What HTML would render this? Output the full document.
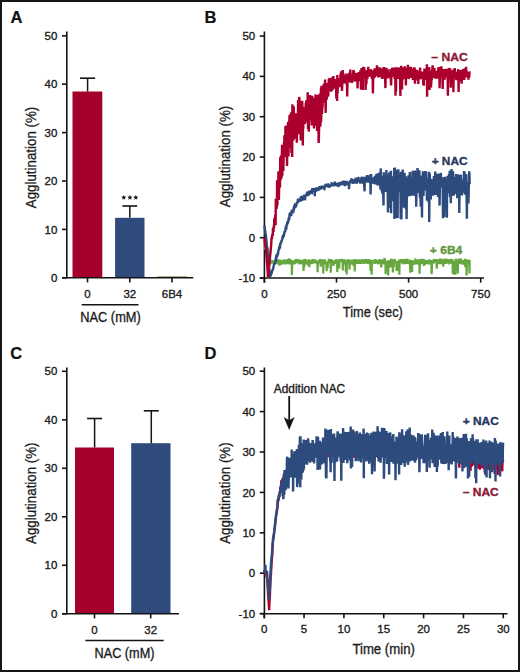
<!DOCTYPE html>
<html><head><meta charset="utf-8"><style>
html,body{margin:0;padding:0;background:#fff;}
#fig{position:relative;width:520px;height:672px;box-sizing:border-box;border:2px solid #161616;overflow:hidden;background:#fff;}
svg{position:absolute;left:-2px;top:-2px;}
text{font-family:"Liberation Sans", sans-serif;}
</style></head><body>
<div id="fig"><svg width="520" height="672" viewBox="0 0 520 672">
<text x="10.40" y="22.90" font-size="16.5" text-anchor="start" font-weight="bold" fill="#111" stroke="#111" stroke-width="0.2">A</text>
<line x1="66.80" y1="31.50" x2="66.80" y2="278.60" stroke="#141414" stroke-width="1.6"/>
<line x1="62.00" y1="277.80" x2="66.80" y2="277.80" stroke="#141414" stroke-width="1.6"/>
<text x="57.40" y="281.90" font-size="11.5" text-anchor="end" font-weight="normal" fill="#1c1c1c" stroke="#1c1c1c" stroke-width="0.35">0</text>
<line x1="62.00" y1="229.40" x2="66.80" y2="229.40" stroke="#141414" stroke-width="1.6"/>
<text x="57.40" y="233.50" font-size="11.5" text-anchor="end" font-weight="normal" fill="#1c1c1c" stroke="#1c1c1c" stroke-width="0.35">10</text>
<line x1="62.00" y1="181.00" x2="66.80" y2="181.00" stroke="#141414" stroke-width="1.6"/>
<text x="57.40" y="185.10" font-size="11.5" text-anchor="end" font-weight="normal" fill="#1c1c1c" stroke="#1c1c1c" stroke-width="0.35">20</text>
<line x1="62.00" y1="132.60" x2="66.80" y2="132.60" stroke="#141414" stroke-width="1.6"/>
<text x="57.40" y="136.70" font-size="11.5" text-anchor="end" font-weight="normal" fill="#1c1c1c" stroke="#1c1c1c" stroke-width="0.35">30</text>
<line x1="62.00" y1="84.20" x2="66.80" y2="84.20" stroke="#141414" stroke-width="1.6"/>
<text x="57.40" y="88.30" font-size="11.5" text-anchor="end" font-weight="normal" fill="#1c1c1c" stroke="#1c1c1c" stroke-width="0.35">40</text>
<line x1="62.00" y1="35.80" x2="66.80" y2="35.80" stroke="#141414" stroke-width="1.6"/>
<text x="57.40" y="39.90" font-size="11.5" text-anchor="end" font-weight="normal" fill="#1c1c1c" stroke="#1c1c1c" stroke-width="0.35">50</text>
<rect x="72.50" y="91.50" width="29.80" height="186.30" fill="#a3002b"/>
<rect x="115.10" y="217.80" width="29.40" height="60.00" fill="#2e4b7b"/>
<rect x="157.20" y="276.00" width="30.10" height="1.80" fill="#a8bd86"/>
<line x1="87.60" y1="91.50" x2="87.60" y2="78.20" stroke="#141414" stroke-width="1.5"/>
<line x1="80.00" y1="78.20" x2="95.20" y2="78.20" stroke="#141414" stroke-width="1.6"/>
<line x1="129.80" y1="217.80" x2="129.80" y2="206.00" stroke="#141414" stroke-width="1.5"/>
<line x1="122.40" y1="206.00" x2="137.20" y2="206.00" stroke="#141414" stroke-width="1.6"/>
<line x1="62.00" y1="277.80" x2="193.30" y2="277.80" stroke="#141414" stroke-width="1.6"/>
<line x1="87.50" y1="277.80" x2="87.50" y2="282.40" stroke="#141414" stroke-width="1.6"/>
<text x="87.50" y="297.60" font-size="11.5" text-anchor="middle" font-weight="normal" fill="#1c1c1c" stroke="#1c1c1c" stroke-width="0.35">0</text>
<line x1="129.80" y1="277.80" x2="129.80" y2="282.40" stroke="#141414" stroke-width="1.6"/>
<text x="129.80" y="297.60" font-size="11.5" text-anchor="middle" font-weight="normal" fill="#1c1c1c" stroke="#1c1c1c" stroke-width="0.35">32</text>
<line x1="172.00" y1="277.80" x2="172.00" y2="282.40" stroke="#141414" stroke-width="1.6"/>
<text x="172.00" y="297.60" font-size="11.5" text-anchor="middle" font-weight="normal" fill="#1c1c1c" stroke="#1c1c1c" stroke-width="0.35">6B4</text>
<line x1="81.70" y1="304.80" x2="138.50" y2="304.80" stroke="#141414" stroke-width="1.5"/>
<text x="110.50" y="321.80" font-size="14" text-anchor="middle" font-weight="normal" fill="#1c1c1c" stroke="#1c1c1c" stroke-width="0.35" textLength="60.5" lengthAdjust="spacingAndGlyphs">NAC (mM)</text>
<polygon points="123.80,195.00 124.53,196.59 126.27,196.80 124.99,197.99 125.33,199.70 123.80,198.85 122.27,199.70 122.61,197.99 121.33,196.80 123.07,196.59" fill="#1a1a1a"/>
<polygon points="129.90,195.00 130.63,196.59 132.37,196.80 131.09,197.99 131.43,199.70 129.90,198.85 128.37,199.70 128.71,197.99 127.43,196.80 129.17,196.59" fill="#1a1a1a"/>
<polygon points="135.80,195.00 136.53,196.59 138.27,196.80 136.99,197.99 137.33,199.70 135.80,198.85 134.27,199.70 134.61,197.99 133.33,196.80 135.07,196.59" fill="#1a1a1a"/>
<text transform="translate(36.00,157.50) rotate(-90)" x="0" y="0" font-size="15" text-anchor="middle" fill="#1c1c1c" stroke="#1c1c1c" stroke-width="0.3" textLength="101.5" lengthAdjust="spacingAndGlyphs">Agglutination (%)</text>
<text x="10.20" y="358.80" font-size="16.5" text-anchor="start" font-weight="bold" fill="#111" stroke="#111" stroke-width="0.2">C</text>
<line x1="66.80" y1="367.50" x2="66.80" y2="614.60" stroke="#141414" stroke-width="1.6"/>
<line x1="62.00" y1="613.80" x2="66.80" y2="613.80" stroke="#141414" stroke-width="1.6"/>
<text x="57.40" y="617.90" font-size="11.5" text-anchor="end" font-weight="normal" fill="#1c1c1c" stroke="#1c1c1c" stroke-width="0.35">0</text>
<line x1="62.00" y1="565.30" x2="66.80" y2="565.30" stroke="#141414" stroke-width="1.6"/>
<text x="57.40" y="569.40" font-size="11.5" text-anchor="end" font-weight="normal" fill="#1c1c1c" stroke="#1c1c1c" stroke-width="0.35">10</text>
<line x1="62.00" y1="516.80" x2="66.80" y2="516.80" stroke="#141414" stroke-width="1.6"/>
<text x="57.40" y="520.90" font-size="11.5" text-anchor="end" font-weight="normal" fill="#1c1c1c" stroke="#1c1c1c" stroke-width="0.35">20</text>
<line x1="62.00" y1="468.30" x2="66.80" y2="468.30" stroke="#141414" stroke-width="1.6"/>
<text x="57.40" y="472.40" font-size="11.5" text-anchor="end" font-weight="normal" fill="#1c1c1c" stroke="#1c1c1c" stroke-width="0.35">30</text>
<line x1="62.00" y1="419.80" x2="66.80" y2="419.80" stroke="#141414" stroke-width="1.6"/>
<text x="57.40" y="423.90" font-size="11.5" text-anchor="end" font-weight="normal" fill="#1c1c1c" stroke="#1c1c1c" stroke-width="0.35">40</text>
<line x1="62.00" y1="371.30" x2="66.80" y2="371.30" stroke="#141414" stroke-width="1.6"/>
<text x="57.40" y="375.40" font-size="11.5" text-anchor="end" font-weight="normal" fill="#1c1c1c" stroke="#1c1c1c" stroke-width="0.35">50</text>
<rect x="75.00" y="447.50" width="39.00" height="166.30" fill="#a3002b"/>
<rect x="131.20" y="443.20" width="39.30" height="170.60" fill="#2e4b7b"/>
<line x1="94.60" y1="447.50" x2="94.60" y2="418.50" stroke="#141414" stroke-width="1.5"/>
<line x1="87.10" y1="418.50" x2="102.10" y2="418.50" stroke="#141414" stroke-width="1.6"/>
<line x1="151.30" y1="443.20" x2="151.30" y2="410.80" stroke="#141414" stroke-width="1.5"/>
<line x1="143.80" y1="410.80" x2="158.80" y2="410.80" stroke="#141414" stroke-width="1.6"/>
<line x1="62.00" y1="613.80" x2="179.00" y2="613.80" stroke="#141414" stroke-width="1.6"/>
<line x1="94.50" y1="613.80" x2="94.50" y2="618.40" stroke="#141414" stroke-width="1.6"/>
<text x="94.50" y="633.60" font-size="11.5" text-anchor="middle" font-weight="normal" fill="#1c1c1c" stroke="#1c1c1c" stroke-width="0.35">0</text>
<line x1="150.70" y1="613.80" x2="150.70" y2="618.40" stroke="#141414" stroke-width="1.6"/>
<text x="150.70" y="633.60" font-size="11.5" text-anchor="middle" font-weight="normal" fill="#1c1c1c" stroke="#1c1c1c" stroke-width="0.35">32</text>
<line x1="85.40" y1="640.60" x2="163.70" y2="640.60" stroke="#141414" stroke-width="1.5"/>
<text x="124.50" y="657.90" font-size="14" text-anchor="middle" font-weight="normal" fill="#1c1c1c" stroke="#1c1c1c" stroke-width="0.35" textLength="60.0" lengthAdjust="spacingAndGlyphs">NAC (mM)</text>
<text transform="translate(36.00,493.20) rotate(-90)" x="0" y="0" font-size="15" text-anchor="middle" fill="#1c1c1c" stroke="#1c1c1c" stroke-width="0.3" textLength="101.5" lengthAdjust="spacingAndGlyphs">Agglutination (%)</text>
<text x="204.50" y="23.00" font-size="16.5" text-anchor="start" font-weight="bold" fill="#111" stroke="#111" stroke-width="0.2">B</text>
<line x1="264.40" y1="31.50" x2="264.40" y2="282.60" stroke="#141414" stroke-width="1.6"/>
<line x1="259.80" y1="278.03" x2="264.40" y2="278.03" stroke="#141414" stroke-width="1.6"/>
<text x="255.20" y="282.13" font-size="11.5" text-anchor="end" font-weight="normal" fill="#1c1c1c" stroke="#1c1c1c" stroke-width="0.35">-10</text>
<line x1="259.80" y1="237.70" x2="264.40" y2="237.70" stroke="#141414" stroke-width="1.6"/>
<text x="255.20" y="241.80" font-size="11.5" text-anchor="end" font-weight="normal" fill="#1c1c1c" stroke="#1c1c1c" stroke-width="0.35">0</text>
<line x1="259.80" y1="197.37" x2="264.40" y2="197.37" stroke="#141414" stroke-width="1.6"/>
<text x="255.20" y="201.47" font-size="11.5" text-anchor="end" font-weight="normal" fill="#1c1c1c" stroke="#1c1c1c" stroke-width="0.35">10</text>
<line x1="259.80" y1="157.04" x2="264.40" y2="157.04" stroke="#141414" stroke-width="1.6"/>
<text x="255.20" y="161.14" font-size="11.5" text-anchor="end" font-weight="normal" fill="#1c1c1c" stroke="#1c1c1c" stroke-width="0.35">20</text>
<line x1="259.80" y1="116.71" x2="264.40" y2="116.71" stroke="#141414" stroke-width="1.6"/>
<text x="255.20" y="120.81" font-size="11.5" text-anchor="end" font-weight="normal" fill="#1c1c1c" stroke="#1c1c1c" stroke-width="0.35">30</text>
<line x1="259.80" y1="76.38" x2="264.40" y2="76.38" stroke="#141414" stroke-width="1.6"/>
<text x="255.20" y="80.48" font-size="11.5" text-anchor="end" font-weight="normal" fill="#1c1c1c" stroke="#1c1c1c" stroke-width="0.35">40</text>
<line x1="259.80" y1="36.05" x2="264.40" y2="36.05" stroke="#141414" stroke-width="1.6"/>
<text x="255.20" y="40.15" font-size="11.5" text-anchor="end" font-weight="normal" fill="#1c1c1c" stroke="#1c1c1c" stroke-width="0.35">50</text>
<line x1="259.80" y1="278.00" x2="484.00" y2="278.00" stroke="#141414" stroke-width="1.6"/>
<line x1="264.40" y1="278.00" x2="264.40" y2="282.60" stroke="#141414" stroke-width="1.6"/>
<text x="264.40" y="297.60" font-size="11.5" text-anchor="middle" font-weight="normal" fill="#1c1c1c" stroke="#1c1c1c" stroke-width="0.35">0</text>
<line x1="336.50" y1="278.00" x2="336.50" y2="282.60" stroke="#141414" stroke-width="1.6"/>
<text x="336.50" y="297.60" font-size="11.5" text-anchor="middle" font-weight="normal" fill="#1c1c1c" stroke="#1c1c1c" stroke-width="0.35">250</text>
<line x1="408.60" y1="278.00" x2="408.60" y2="282.60" stroke="#141414" stroke-width="1.6"/>
<text x="408.60" y="297.60" font-size="11.5" text-anchor="middle" font-weight="normal" fill="#1c1c1c" stroke="#1c1c1c" stroke-width="0.35">500</text>
<line x1="480.70" y1="278.00" x2="480.70" y2="282.60" stroke="#141414" stroke-width="1.6"/>
<text x="480.70" y="297.60" font-size="11.5" text-anchor="middle" font-weight="normal" fill="#1c1c1c" stroke="#1c1c1c" stroke-width="0.35">750</text>
<text x="342.80" y="317.40" font-size="15" text-anchor="start" font-weight="normal" fill="#1c1c1c" stroke="#1c1c1c" stroke-width="0.35" textLength="60" lengthAdjust="spacingAndGlyphs">Time (sec)</text>
<text transform="translate(229.80,156.50) rotate(-90)" x="0" y="0" font-size="15" text-anchor="middle" fill="#1c1c1c" stroke="#1c1c1c" stroke-width="0.3" textLength="101.5" lengthAdjust="spacingAndGlyphs">Agglutination (%)</text>
<polyline points="264.4,246.6 264.7,247.5 264.9,247.2 265.2,249.9 265.4,247.9 265.7,246.6 266.0,249.0 266.2,250.4 266.5,247.1 266.7,248.4 267.0,250.5 267.3,248.8 267.5,247.6 267.8,250.9 268.0,249.2 268.3,251.2 268.6,254.6 268.8,256.1 269.1,253.9 269.3,258.2 269.6,259.0 269.9,259.3 270.1,261.7 270.4,264.3 270.6,263.0 270.9,261.8 271.1,260.3 271.4,261.1 271.7,262.1 271.9,263.3 272.2,260.2 272.4,263.3 272.7,260.5 273.0,261.7 273.2,261.4 273.5,262.3 273.7,263.3 274.0,263.4 274.3,260.9 274.5,262.9 274.8,264.2 275.0,263.3 275.3,259.5 275.6,260.6 275.8,261.3 276.1,262.2 276.3,260.0 276.6,262.9 276.9,261.0 277.1,264.3 277.4,260.9 277.6,259.2 277.9,260.6 278.2,263.9 278.4,261.2 278.7,262.7 278.9,259.5 279.2,264.2 279.5,265.5 279.7,263.8 280.0,262.5 280.2,259.7 280.5,261.3 280.8,260.8 281.0,264.1 281.3,263.4 281.5,262.3 281.8,264.7 282.1,260.4 282.3,261.3 282.6,262.8 282.8,263.4 283.1,262.1 283.3,263.0 283.6,260.3 283.9,259.6 284.1,260.1 284.4,263.7 284.6,260.2 284.9,264.2 285.2,263.6 285.4,260.6 285.7,262.6 285.9,260.0 286.2,260.7 286.5,260.9 286.7,261.1 287.0,259.5 287.2,259.9 287.5,264.2 287.8,259.1 288.0,262.0 288.3,262.8 288.5,259.7 288.8,259.5 289.1,260.2 289.3,260.5 289.6,264.3 289.8,262.9 290.1,260.0 290.4,259.0 290.6,262.8 290.9,260.3 291.1,263.7 291.4,260.4 291.7,262.4 291.9,275.1 292.2,263.4 292.4,261.3 292.7,261.8 293.0,260.7 293.2,262.5 293.5,261.2 293.7,262.3 294.0,260.3 294.2,264.3 294.5,261.2 294.8,261.2 295.0,264.0 295.3,260.3 295.5,261.0 295.8,259.3 296.1,263.3 296.3,262.1 296.6,259.7 296.8,259.3 297.1,260.7 297.4,262.4 297.6,260.4 297.9,261.9 298.1,261.5 298.4,260.7 298.7,259.4 298.9,264.3 299.2,260.6 299.4,259.5 299.7,262.3 300.0,263.1 300.2,261.3 300.5,264.2 300.7,260.0 301.0,261.7 301.3,260.8 301.5,260.2 301.8,264.2 302.0,263.3 302.3,262.1 302.6,261.1 302.8,262.4 303.1,262.8 303.3,264.2 303.6,271.0 303.9,259.3 304.1,264.2 304.4,266.6 304.6,263.2 304.9,259.2 305.2,260.0 305.4,263.2 305.7,259.2 305.9,262.7 306.2,260.6 306.4,262.9 306.7,262.8 307.0,264.0 307.2,262.8 307.5,262.1 307.7,264.2 308.0,264.3 308.3,264.3 308.5,259.6 308.8,262.1 309.0,259.4 309.3,267.3 309.6,261.3 309.8,262.3 310.1,260.2 310.3,262.5 310.6,260.0 310.9,262.2 311.1,263.6 311.4,262.1 311.6,264.2 311.9,262.3 312.2,262.3 312.4,260.5 312.7,259.0 312.9,263.5 313.2,261.1 313.5,259.9 313.7,260.7 314.0,263.1 314.2,262.1 314.5,259.3 314.8,261.5 315.0,260.7 315.3,262.7 315.5,260.1 315.8,261.3 316.1,260.1 316.3,262.8 316.6,263.1 316.8,263.4 317.1,261.1 317.4,263.9 317.6,272.2 317.9,260.8 318.1,262.8 318.4,262.9 318.6,263.1 318.9,261.8 319.2,260.3 319.4,262.9 319.7,261.5 319.9,259.0 320.2,261.6 320.5,262.9 320.7,266.6 321.0,259.5 321.2,260.3 321.5,262.6 321.8,261.6 322.0,262.6 322.3,259.4 322.5,264.5 322.8,259.6 323.1,262.9 323.3,273.6 323.6,259.8 323.8,260.1 324.1,264.1 324.4,262.7 324.6,263.8 324.9,260.3 325.1,259.5 325.4,262.8 325.7,262.4 325.9,264.1 326.2,263.8 326.4,264.0 326.7,271.1 327.0,263.2 327.2,261.8 327.5,262.9 327.7,268.3 328.0,261.3 328.3,262.5 328.5,262.9 328.8,259.5 329.0,259.3 329.3,261.8 329.5,262.2 329.8,261.5 330.1,261.4 330.3,259.2 330.6,262.0 330.8,272.7 331.1,259.2 331.4,260.8 331.6,263.6 331.9,261.4 332.1,259.9 332.4,261.3 332.7,262.9 332.9,262.4 333.2,260.4 333.4,265.9 333.7,264.2 334.0,262.6 334.2,260.3 334.5,264.0 334.7,262.2 335.0,261.3 335.3,262.7 335.5,260.6 335.8,264.0 336.0,259.3 336.3,260.3 336.6,259.6 336.8,261.5 337.1,261.8 337.3,272.1 337.6,263.8 337.9,261.5 338.1,262.7 338.4,259.7 338.6,263.4 338.9,264.1 339.2,268.5 339.4,259.0 339.7,262.0 339.9,259.6 340.2,260.4 340.5,260.1 340.7,261.1 341.0,261.6 341.2,260.9 341.5,260.0 341.7,259.2 342.0,259.5 342.3,260.4 342.5,259.3 342.8,270.4 343.0,264.3 343.3,262.9 343.6,264.3 343.8,261.3 344.1,263.3 344.3,259.6 344.6,263.8 344.9,260.2 345.1,264.0 345.4,259.3 345.6,262.4 345.9,271.9 346.2,262.6 346.4,260.5 346.7,274.5 346.9,260.7 347.2,263.6 347.5,262.3 347.7,261.7 348.0,262.8 348.2,259.3 348.5,260.5 348.8,260.5 349.0,263.0 349.3,261.5 349.5,269.7 349.8,262.6 350.1,260.1 350.3,265.3 350.6,260.6 350.8,263.0 351.1,260.0 351.4,263.5 351.6,259.5 351.9,264.0 352.1,263.2 352.4,260.8 352.7,262.4 352.9,263.4 353.2,263.5 353.4,265.6 353.7,262.7 353.9,259.4 354.2,260.3 354.5,261.7 354.7,271.4 355.0,263.1 355.2,262.0 355.5,259.9 355.8,259.4 356.0,263.5 356.3,262.6 356.5,260.1 356.8,262.8 357.1,262.5 357.3,263.8 357.6,259.8 357.8,263.7 358.1,260.7 358.4,263.8 358.6,262.9 358.9,259.3 359.1,263.7 359.4,260.1 359.7,263.1 359.9,259.9 360.2,262.5 360.4,261.4 360.7,259.9 361.0,263.8 361.2,262.3 361.5,259.4 361.7,262.9 362.0,261.2 362.3,259.4 362.5,260.5 362.8,259.3 363.0,261.3 363.3,260.7 363.6,264.0 363.8,259.2 364.1,262.0 364.3,261.4 364.6,261.4 364.8,262.6 365.1,259.1 365.4,260.7 365.6,261.4 365.9,263.5 366.1,260.3 366.4,260.8 366.7,259.2 366.9,261.2 367.2,262.5 367.4,260.9 367.7,263.5 368.0,263.1 368.2,261.2 368.5,260.8 368.7,259.1 369.0,264.1 369.3,259.5 369.5,262.1 369.8,264.1 370.0,262.2 370.3,261.1 370.6,270.9 370.8,262.4 371.1,259.9 371.3,262.0 371.6,274.8 371.9,262.9 372.1,263.8 372.4,261.7 372.6,260.3 372.9,262.4 373.2,263.0 373.4,261.3 373.7,259.8 373.9,261.2 374.2,261.0 374.5,262.2 374.7,260.8 375.0,260.2 375.2,263.9 375.5,259.0 375.8,262.0 376.0,261.8 376.3,261.6 376.5,260.3 376.8,261.7 377.0,261.0 377.3,262.7 377.6,262.9 377.8,261.5 378.1,263.7 378.3,264.1 378.6,260.4 378.9,263.5 379.1,260.9 379.4,259.3 379.6,259.8 379.9,263.7 380.2,261.8 380.4,261.3 380.7,262.4 380.9,262.3 381.2,267.5 381.5,263.5 381.7,259.7 382.0,260.0 382.2,263.3 382.5,262.3 382.8,261.4 383.0,259.4 383.3,264.3 383.5,259.4 383.8,264.0 384.1,262.7 384.3,264.3 384.6,259.0 384.8,259.1 385.1,261.9 385.4,260.4 385.6,274.1 385.9,270.2 386.1,262.4 386.4,261.3 386.7,262.6 386.9,260.7 387.2,261.7 387.4,261.6 387.7,261.6 388.0,262.4 388.2,275.5 388.5,260.4 388.7,260.9 389.0,263.6 389.2,260.7 389.5,263.2 389.8,260.8 390.0,260.3 390.3,260.8 390.5,267.5 390.8,262.1 391.1,258.9 391.3,259.5 391.6,266.1 391.8,262.7 392.1,259.2 392.4,261.2 392.6,263.5 392.9,272.4 393.1,263.7 393.4,261.6 393.7,267.3 393.9,263.5 394.2,260.1 394.4,262.6 394.7,259.1 395.0,260.5 395.2,262.2 395.5,262.7 395.7,263.5 396.0,262.4 396.3,261.3 396.5,270.8 396.8,261.2 397.0,271.0 397.3,263.4 397.6,263.5 397.8,262.7 398.1,261.0 398.3,262.9 398.6,260.6 398.9,261.6 399.1,262.4 399.4,274.8 399.6,259.2 399.9,263.2 400.1,261.7 400.4,261.2 400.7,262.4 400.9,262.3 401.2,259.0 401.4,261.1 401.7,259.2 402.0,262.4 402.2,260.8 402.5,261.3 402.7,259.9 403.0,263.1 403.3,264.1 403.5,259.9 403.8,259.4 404.0,264.1 404.3,259.5 404.6,261.7 404.8,263.9 405.1,262.9 405.3,263.4 405.6,261.4 405.9,258.8 406.1,262.1 406.4,260.5 406.6,262.7 406.9,263.6 407.2,258.9 407.4,259.4 407.7,263.8 407.9,262.9 408.2,261.3 408.5,260.2 408.7,262.6 409.0,264.0 409.2,262.8 409.5,261.2 409.8,259.6 410.0,264.2 410.3,272.7 410.5,261.0 410.8,262.5 411.1,261.7 411.3,264.1 411.6,261.6 411.8,260.1 412.1,272.0 412.3,261.2 412.6,260.6 412.9,263.7 413.1,262.0 413.4,262.7 413.6,263.0 413.9,261.0 414.2,264.1 414.4,264.4 414.7,260.3 414.9,263.1 415.2,264.1 415.5,259.5 415.7,259.6 416.0,262.4 416.2,259.6 416.5,263.1 416.8,263.2 417.0,260.4 417.3,263.6 417.5,262.3 417.8,260.7 418.1,262.9 418.3,264.3 418.6,259.3 418.8,262.5 419.1,262.8 419.4,261.4 419.6,273.8 419.9,262.0 420.1,261.4 420.4,260.0 420.7,259.0 420.9,260.9 421.2,259.8 421.4,263.0 421.7,263.0 422.0,263.7 422.2,262.8 422.5,263.0 422.7,259.8 423.0,259.0 423.3,263.7 423.5,260.7 423.8,258.8 424.0,265.9 424.3,263.1 424.5,261.0 424.8,260.5 425.1,264.2 425.3,263.9 425.6,260.3 425.8,261.5 426.1,260.5 426.4,263.7 426.6,263.2 426.9,260.0 427.1,262.2 427.4,261.6 427.7,260.0 427.9,263.9 428.2,263.7 428.4,261.5 428.7,260.7 429.0,264.4 429.2,261.4 429.5,260.1 429.7,259.5 430.0,262.9 430.3,260.2 430.5,263.1 430.8,261.7 431.0,260.2 431.3,262.5 431.6,274.2 431.8,270.8 432.1,260.9 432.3,261.6 432.6,262.0 432.9,263.6 433.1,262.2 433.4,259.9 433.6,263.4 433.9,260.0 434.2,259.7 434.4,259.2 434.7,261.4 434.9,261.5 435.2,261.6 435.5,261.2 435.7,259.5 436.0,261.2 436.2,261.2 436.5,260.0 436.7,268.8 437.0,264.2 437.3,259.1 437.5,262.2 437.8,261.6 438.0,261.7 438.3,260.4 438.6,263.1 438.8,262.9 439.1,263.0 439.3,260.3 439.6,261.9 439.9,258.8 440.1,259.4 440.4,258.9 440.6,263.2 440.9,263.2 441.2,260.1 441.4,260.7 441.7,262.6 441.9,262.1 442.2,264.2 442.5,258.9 442.7,263.7 443.0,259.8 443.2,266.6 443.5,260.3 443.8,263.9 444.0,261.4 444.3,261.7 444.5,260.4 444.8,263.5 445.1,259.1 445.3,258.8 445.6,263.1 445.8,263.8 446.1,261.3 446.4,261.9 446.6,260.7 446.9,258.8 447.1,260.3 447.4,260.3 447.6,259.3 447.9,260.9 448.2,262.5 448.4,263.5 448.7,262.8 448.9,261.0 449.2,263.0 449.5,262.8 449.7,260.4 450.0,259.8 450.2,262.7 450.5,259.1 450.8,260.0 451.0,262.3 451.3,261.7 451.5,263.6 451.8,259.9 452.1,259.2 452.3,259.9 452.6,263.8 452.8,273.7 453.1,271.6 453.4,274.4 453.6,262.7 453.9,262.4 454.1,262.6 454.4,264.3 454.7,261.2 454.9,261.6 455.2,260.6 455.4,274.8 455.7,258.8 456.0,260.3 456.2,260.1 456.5,262.7 456.7,268.5 457.0,260.0 457.3,260.3 457.5,264.0 457.8,273.5 458.0,264.2 458.3,263.4 458.6,260.4 458.8,262.2 459.1,259.7 459.3,259.7 459.6,264.0 459.8,263.0 460.1,260.4 460.4,261.8 460.6,259.4 460.9,259.4 461.1,259.8 461.4,260.5 461.7,262.9 461.9,262.2 462.2,264.3 462.4,260.4 462.7,263.9 463.0,262.3 463.2,264.3 463.5,264.0 463.7,260.0 464.0,262.7 464.3,260.9 464.5,262.2 464.8,261.4 465.0,258.9 465.3,267.1 465.6,262.2 465.8,259.3 466.1,262.0 466.3,259.9 466.6,275.4 466.9,263.1 467.1,263.0 467.4,260.0 467.6,260.4 467.9,262.3 468.2,263.0 468.4,263.2 468.7,260.0 468.9,260.3 469.2,262.5 469.5,273.5 469.7,260.3" fill="none" stroke="#66a83f" stroke-width="2.2" stroke-linejoin="miter" stroke-miterlimit="2"/>
<polyline points="264.4,225.6 264.7,227.4 264.9,229.2 265.2,231.0 265.4,232.9 265.7,234.7 266.0,236.5 266.2,238.6 266.5,241.5 266.7,244.3 267.0,247.1 267.3,249.9 267.5,252.8 267.8,255.6 268.0,258.4 268.3,261.2 268.6,264.0 268.8,266.6 269.1,268.4 269.3,270.3 269.6,272.2 269.9,274.1 270.1,276.0 270.4,276.0 270.6,275.4 270.9,274.9 271.1,274.4 271.4,273.8 271.7,272.8 271.9,271.9 272.2,270.8 272.4,270.1 272.7,269.8 273.0,269.6 273.2,268.0 273.5,266.7 273.7,265.5 274.0,264.8 274.3,264.2 274.5,263.3 274.8,263.9 275.0,262.5 275.3,261.5 275.6,262.3 275.8,257.5 276.1,260.5 276.3,255.7 276.6,255.7 276.9,257.4 277.1,255.9 277.4,255.6 277.6,253.1 277.9,254.9 278.2,252.3 278.4,250.0 278.7,250.5 278.9,248.9 279.2,249.0 279.5,247.3 279.7,245.4 280.0,248.4 280.2,243.6 280.5,243.1 280.8,243.8 281.0,243.4 281.3,241.3 281.5,240.6 281.8,241.4 282.1,239.2 282.3,239.4 282.6,236.0 282.8,238.6 283.1,237.0 283.3,234.3 283.6,235.2 283.9,235.4 284.1,234.8 284.4,231.9 284.6,231.4 284.9,232.2 285.2,231.4 285.4,229.8 285.7,227.5 285.9,227.6 286.2,229.6 286.5,226.3 286.7,224.1 287.0,225.6 287.2,222.6 287.5,221.5 287.8,223.6 288.0,222.0 288.3,221.6 288.5,219.4 288.8,217.6 289.1,220.0 289.3,218.4 289.6,213.6 289.8,216.5 290.1,212.3 290.4,216.3 290.6,215.3 290.9,215.1 291.1,214.2 291.4,214.3 291.7,209.8 291.9,210.9 292.2,212.1 292.4,212.3 292.7,209.8 293.0,210.2 293.2,213.2 293.5,209.8 293.7,207.3 294.0,210.1 294.2,206.2 294.5,205.4 294.8,205.1 295.0,208.1 295.3,204.6 295.5,204.7 295.8,207.1 296.1,206.3 296.3,204.8 296.6,204.2 296.8,202.8 297.1,202.5 297.4,202.2 297.6,203.4 297.9,199.7 298.1,199.7 298.4,202.1 298.7,199.0 298.9,199.3 299.2,201.2 299.4,198.8 299.7,199.4 300.0,199.5 300.2,200.4 300.5,201.6 300.7,197.5 301.0,197.3 301.3,198.7 301.5,198.2 301.8,197.3 302.0,200.6 302.3,199.4 302.6,199.9 302.8,195.7 303.1,197.8 303.3,197.9 303.6,196.0 303.9,197.1 304.1,196.7 304.4,194.6 304.6,196.0 304.9,200.2 305.2,198.5 305.4,195.3 305.7,196.1 305.9,195.5 306.2,194.6 306.4,195.6 306.7,194.0 307.0,192.6 307.2,192.6 307.5,196.2 307.7,193.1 308.0,194.5 308.3,193.6 308.5,195.6 308.8,191.4 309.0,191.7 309.3,191.2 309.6,194.6 309.8,193.3 310.1,192.6 310.3,192.5 310.6,190.6 310.9,191.4 311.1,190.1 311.4,193.7 311.6,192.5 311.9,192.7 312.2,189.3 312.4,189.3 312.7,190.0 312.9,192.0 313.2,189.5 313.5,190.0 313.7,189.4 314.0,190.6 314.2,189.4 314.5,188.1 314.8,196.3 315.0,188.1 315.3,191.9 315.5,188.8 315.8,191.2 316.1,190.6 316.3,189.4 316.6,187.9 316.8,187.6 317.1,189.8 317.4,187.4 317.6,189.1 317.9,191.2 318.1,187.5 318.4,188.9 318.6,189.7 318.9,190.2 319.2,188.3 319.4,187.6 319.7,186.2 319.9,186.6 320.2,187.3 320.5,187.6 320.7,189.5 321.0,186.9 321.2,188.9 321.5,187.8 321.8,185.7 322.0,186.8 322.3,188.5 322.5,186.4 322.8,187.9 323.1,185.8 323.3,187.7 323.6,186.2 323.8,187.3 324.1,188.7 324.4,188.9 324.6,187.8 324.9,184.7 325.1,186.4 325.4,185.0 325.7,186.4 325.9,184.9 326.2,184.4 326.4,183.9 326.7,185.2 327.0,186.4 327.2,186.2 327.5,186.9 327.7,183.8 328.0,184.2 328.3,184.5 328.5,186.7 328.8,187.7 329.0,185.3 329.3,186.8 329.5,184.7 329.8,187.4 330.1,185.9 330.3,184.4 330.6,185.6 330.8,184.7 331.1,186.0 331.4,185.4 331.6,183.3 331.9,183.4 332.1,183.8 332.4,185.5 332.7,183.9 332.9,184.6 333.2,186.3 333.4,182.8 333.7,185.8 334.0,184.6 334.2,182.7 334.5,183.8 334.7,182.6 335.0,182.6 335.3,184.7 335.5,184.6 335.8,183.9 336.0,183.0 336.3,185.4 336.6,183.9 336.8,186.2 337.1,185.6 337.3,186.0 337.6,185.1 337.9,185.3 338.1,182.5 338.4,184.7 338.6,185.6 338.9,185.4 339.2,186.5 339.4,184.3 339.7,182.3 339.9,184.6 340.2,184.5 340.5,182.2 340.7,184.7 341.0,181.6 341.2,182.9 341.5,185.2 341.7,182.5 342.0,182.8 342.3,183.7 342.5,182.3 342.8,185.0 343.0,182.6 343.3,180.7 343.6,185.3 343.8,181.9 344.1,182.8 344.3,180.9 344.6,184.0 344.9,185.0 345.1,185.0 345.4,182.9 345.6,184.2 345.9,182.2 346.2,182.9 346.4,183.3 346.7,180.8 346.9,184.4 347.2,184.8 347.5,183.5 347.7,183.6 348.0,183.0 348.2,183.0 348.5,184.3 348.8,183.0 349.0,189.2 349.3,184.4 349.5,183.2 349.8,182.8 350.1,180.4 350.3,182.6 350.6,181.9 350.8,182.8 351.1,182.3 351.4,179.0 351.6,178.8 351.9,180.0 352.1,181.9 352.4,182.8 352.7,182.2 352.9,182.6 353.2,182.0 353.4,183.8 353.7,180.1 353.9,180.9 354.2,179.3 354.5,183.2 354.7,181.7 355.0,180.9 355.2,182.6 355.5,179.5 355.8,177.6 356.0,181.6 356.3,181.7 356.5,183.5 356.8,182.9 357.1,178.6 357.3,178.8 357.6,178.5 357.8,180.5 358.1,177.3 358.4,177.6 358.6,182.2 358.9,181.2 359.1,180.7 359.4,180.7 359.7,179.8 359.9,179.7 360.2,183.7 360.4,178.7 360.7,181.5 361.0,179.8 361.2,182.8 361.5,176.8 361.7,183.1 362.0,181.4 362.3,183.3 362.5,180.3 362.8,176.7 363.0,183.7 363.3,177.9 363.6,183.1 363.8,180.5 364.1,183.4 364.3,187.2 364.6,191.3 364.8,176.8 365.1,182.9 365.4,180.5 365.6,181.3 365.9,180.2 366.1,180.0 366.4,182.3 366.7,177.3 366.9,175.0 367.2,181.2 367.4,180.1 367.7,175.6 368.0,176.9 368.2,177.6 368.5,176.9 368.7,182.8 369.0,177.2 369.3,181.7 369.5,177.2 369.8,179.6 370.0,174.5 370.3,176.3 370.6,194.5 370.8,183.6 371.1,174.0 371.3,182.5 371.6,178.2 371.9,183.3 372.1,181.2 372.4,177.2 372.6,183.7 372.9,180.5 373.2,181.9 373.4,179.1 373.7,177.7 373.9,182.4 374.2,182.8 374.5,183.2 374.7,183.2 375.0,175.7 375.2,178.5 375.5,178.5 375.8,183.5 376.0,184.2 376.3,175.3 376.5,173.9 376.8,177.0 377.0,181.2 377.3,180.5 377.6,184.8 377.8,185.4 378.1,173.3 378.3,175.2 378.6,185.2 378.9,181.5 379.1,172.9 379.4,174.5 379.6,181.7 379.9,182.2 380.2,179.0 380.4,189.4 380.7,168.4 380.9,175.1 381.2,182.1 381.5,176.5 381.7,191.4 382.0,176.2 382.2,188.6 382.5,193.9 382.8,175.7 383.0,179.9 383.3,194.0 383.5,205.5 383.8,172.3 384.1,187.7 384.3,181.7 384.6,184.5 384.8,182.4 385.1,189.3 385.4,186.9 385.6,190.3 385.9,176.1 386.1,192.1 386.4,170.1 386.7,189.0 386.9,189.7 387.2,179.9 387.4,181.9 387.7,190.9 388.0,212.4 388.2,177.0 388.5,174.5 388.7,207.9 389.0,179.9 389.2,173.7 389.5,172.7 389.8,174.5 390.0,174.3 390.3,180.1 390.5,184.2 390.8,170.8 391.1,213.3 391.3,179.2 391.6,194.1 391.8,187.9 392.1,192.4 392.4,201.2 392.6,176.8 392.9,192.5 393.1,176.3 393.4,179.1 393.7,182.3 393.9,176.8 394.2,168.1 394.4,219.0 394.7,192.4 395.0,167.5 395.2,184.2 395.5,193.9 395.7,174.1 396.0,190.4 396.3,191.3 396.5,170.0 396.8,217.9 397.0,187.0 397.3,175.7 397.6,218.3 397.8,188.5 398.1,192.2 398.3,169.2 398.6,185.8 398.9,174.1 399.1,187.9 399.4,182.2 399.6,176.0 399.9,182.2 400.1,187.1 400.4,177.8 400.7,218.4 400.9,171.8 401.2,179.5 401.4,219.5 401.7,190.5 402.0,187.9 402.2,175.2 402.5,198.5 402.7,169.5 403.0,180.2 403.3,192.8 403.5,179.8 403.8,177.5 404.0,207.8 404.3,188.4 404.6,172.9 404.8,180.7 405.1,203.9 405.3,188.8 405.6,176.1 405.9,208.9 406.1,194.9 406.4,193.1 406.6,219.1 406.9,185.6 407.2,195.0 407.4,186.3 407.7,196.6 407.9,177.6 408.2,182.7 408.5,175.4 408.7,179.3 409.0,182.2 409.2,186.7 409.5,196.2 409.8,172.1 410.0,194.6 410.3,181.2 410.5,183.8 410.8,188.3 411.1,190.0 411.3,178.2 411.6,194.5 411.8,195.5 412.1,194.5 412.3,180.1 412.6,170.8 412.9,172.9 413.1,188.0 413.4,175.3 413.6,194.9 413.9,176.2 414.2,183.1 414.4,179.6 414.7,196.0 414.9,170.6 415.2,183.4 415.5,185.0 415.7,191.9 416.0,180.9 416.2,206.7 416.5,188.4 416.8,181.7 417.0,191.1 417.3,175.7 417.5,168.1 417.8,182.2 418.1,193.0 418.3,189.7 418.6,178.3 418.8,178.3 419.1,192.1 419.4,170.2 419.6,184.4 419.9,197.0 420.1,197.4 420.4,186.2 420.7,206.7 420.9,175.8 421.2,185.5 421.4,183.3 421.7,188.3 422.0,217.4 422.2,190.2 422.5,194.3 422.7,175.6 423.0,171.3 423.3,184.3 423.5,195.9 423.8,175.5 424.0,190.0 424.3,184.2 424.5,180.0 424.8,173.9 425.1,171.0 425.3,190.4 425.6,180.3 425.8,188.9 426.1,171.5 426.4,183.1 426.6,179.9 426.9,200.7 427.1,194.3 427.4,178.7 427.7,187.9 427.9,193.7 428.2,182.8 428.4,192.0 428.7,202.7 429.0,171.7 429.2,222.1 429.5,191.4 429.7,173.3 430.0,179.7 430.3,183.0 430.5,195.3 430.8,199.5 431.0,185.7 431.3,178.9 431.6,194.9 431.8,183.5 432.1,195.5 432.3,186.1 432.6,185.2 432.9,185.9 433.1,195.7 433.4,183.8 433.6,187.3 433.9,176.1 434.2,190.8 434.4,178.0 434.7,193.1 434.9,194.9 435.2,171.4 435.5,188.1 435.7,177.4 436.0,194.9 436.2,192.9 436.5,173.7 436.7,194.5 437.0,185.5 437.3,184.4 437.5,175.4 437.8,174.0 438.0,196.9 438.3,182.3 438.6,175.9 438.8,173.7 439.1,195.5 439.3,193.4 439.6,205.6 439.9,183.1 440.1,174.5 440.4,185.2 440.6,175.3 440.9,173.0 441.2,185.5 441.4,187.0 441.7,183.5 441.9,180.8 442.2,180.6 442.5,183.6 442.7,189.1 443.0,218.3 443.2,183.9 443.5,177.2 443.8,203.6 444.0,182.6 444.3,216.9 444.5,193.7 444.8,176.8 445.1,184.4 445.3,180.9 445.6,187.5 445.8,190.6 446.1,184.5 446.4,184.8 446.6,194.5 446.9,217.7 447.1,185.3 447.4,176.9 447.6,176.2 447.9,187.9 448.2,179.8 448.4,179.8 448.7,183.6 448.9,174.4 449.2,193.4 449.5,184.3 449.7,170.8 450.0,196.9 450.2,189.0 450.5,181.1 450.8,203.3 451.0,195.4 451.3,196.5 451.5,168.9 451.8,193.2 452.1,181.9 452.3,183.3 452.6,188.6 452.8,171.5 453.1,172.4 453.4,186.9 453.6,195.6 453.9,193.6 454.1,180.0 454.4,177.6 454.7,186.7 454.9,176.9 455.2,194.0 455.4,186.9 455.7,189.6 456.0,177.8 456.2,174.0 456.5,186.2 456.7,180.9 457.0,183.7 457.3,198.2 457.5,178.0 457.8,184.8 458.0,184.1 458.3,174.5 458.6,187.2 458.8,188.5 459.1,184.7 459.3,212.9 459.6,182.3 459.8,192.7 460.1,177.0 460.4,193.5 460.6,176.2 460.9,174.7 461.1,189.1 461.4,186.0 461.7,185.4 461.9,195.5 462.2,191.3 462.4,182.9 462.7,191.2 463.0,192.6 463.2,179.2 463.5,186.4 463.7,189.6 464.0,171.0 464.3,177.6 464.5,172.1 464.8,189.6 465.0,194.5 465.3,187.2 465.6,173.9 465.8,195.1 466.1,174.2 466.3,189.6 466.6,194.9 466.9,218.7 467.1,186.6 467.4,189.5 467.6,199.3 467.9,181.9 468.2,190.0 468.4,203.5 468.7,193.4 468.9,177.0 469.2,171.2 469.5,176.1 469.7,184.3" fill="none" stroke="#2e4b7d" stroke-width="2.4" stroke-linejoin="miter" stroke-miterlimit="2"/>
<polyline points="264.4,238.3 264.7,239.7 264.9,242.5 265.2,244.4 265.4,246.2 265.7,246.7 266.0,250.3 266.2,252.7 266.5,256.5 266.7,258.7 267.0,262.8 267.3,265.9 267.5,269.1 267.8,273.5 268.0,277.3 268.3,275.7 268.6,273.0 268.8,270.6 269.1,266.6 269.3,264.6 269.6,260.0 269.9,260.3 270.1,256.0 270.4,253.5 270.6,251.3 270.9,247.2 271.1,246.3 271.4,240.3 271.7,237.1 271.9,238.8 272.2,235.5 272.4,235.5 272.7,235.9 273.0,228.1 273.2,230.7 273.5,232.0 273.7,225.8 274.0,228.8 274.3,218.2 274.5,224.0 274.8,224.3 275.0,219.5 275.3,214.7 275.6,225.2 275.8,198.7 276.1,199.8 276.3,204.4 276.6,209.0 276.9,203.2 277.1,180.3 277.4,205.5 277.6,181.6 277.9,196.8 278.2,196.1 278.4,171.3 278.7,177.0 278.9,200.1 279.2,181.9 279.5,187.8 279.7,183.7 280.0,187.4 280.2,157.3 280.5,168.8 280.8,179.7 281.0,155.5 281.3,174.6 281.5,178.3 281.8,157.0 282.1,144.7 282.3,175.8 282.6,145.6 282.8,167.1 283.1,169.4 283.3,170.9 283.6,159.5 283.9,142.2 284.1,149.6 284.4,135.2 284.6,157.2 284.9,152.4 285.2,153.2 285.4,126.2 285.7,126.5 285.9,147.7 286.2,143.4 286.5,147.4 286.7,129.9 287.0,166.0 287.2,155.6 287.5,141.3 287.8,147.4 288.0,121.8 288.3,125.6 288.5,156.6 288.8,127.9 289.1,126.0 289.3,121.6 289.6,114.7 289.8,147.9 290.1,126.7 290.4,147.3 290.6,133.7 290.9,117.9 291.1,112.4 291.4,153.0 291.7,148.2 291.9,133.3 292.2,157.1 292.4,104.3 292.7,139.8 293.0,134.7 293.2,129.0 293.5,140.5 293.7,106.2 294.0,115.4 294.2,134.8 294.5,120.6 294.8,137.7 295.0,115.5 295.3,130.9 295.5,138.7 295.8,135.3 296.1,116.8 296.3,113.2 296.6,126.0 296.8,142.7 297.1,124.4 297.4,133.4 297.6,125.5 297.9,121.9 298.1,100.1 298.4,133.1 298.7,134.1 298.9,114.0 299.2,96.9 299.4,99.0 299.7,107.5 300.0,133.9 300.2,102.5 300.5,107.5 300.7,140.6 301.0,116.2 301.3,133.5 301.5,101.5 301.8,104.8 302.0,100.9 302.3,102.6 302.6,123.4 302.8,145.4 303.1,124.1 303.3,128.7 303.6,117.9 303.9,113.4 304.1,122.2 304.4,108.7 304.6,108.8 304.9,123.9 305.2,107.8 305.4,118.9 305.7,103.0 305.9,121.5 306.2,100.2 306.4,116.1 306.7,110.3 307.0,105.2 307.2,111.6 307.5,122.4 307.7,92.3 308.0,129.0 308.3,119.4 308.5,110.0 308.8,131.6 309.0,126.3 309.3,99.5 309.6,100.1 309.8,106.1 310.1,95.1 310.3,101.1 310.6,119.8 310.9,105.5 311.1,118.0 311.4,101.1 311.6,116.0 311.9,125.5 312.2,95.7 312.4,103.3 312.7,101.0 312.9,108.5 313.2,99.3 313.5,113.0 313.7,108.1 314.0,128.6 314.2,108.4 314.5,97.7 314.8,102.1 315.0,98.0 315.3,110.4 315.5,94.6 315.8,125.8 316.1,94.6 316.3,114.8 316.6,126.0 316.8,104.6 317.1,130.9 317.4,111.9 317.6,94.9 317.9,123.2 318.1,104.0 318.4,111.9 318.6,142.9 318.9,137.9 319.2,122.5 319.4,107.4 319.7,93.5 319.9,120.5 320.2,126.6 320.5,124.3 320.7,108.4 321.0,87.8 321.2,121.4 321.5,85.8 321.8,101.0 322.0,114.0 322.3,102.7 322.5,108.2 322.8,91.1 323.1,95.3 323.3,101.6 323.6,101.3 323.8,83.8 324.1,86.2 324.4,94.6 324.6,94.9 324.9,85.8 325.1,79.5 325.4,101.4 325.7,112.9 325.9,93.4 326.2,89.6 326.4,99.2 326.7,98.9 327.0,94.8 327.2,90.7 327.5,83.1 327.7,85.5 328.0,96.3 328.3,95.6 328.5,87.7 328.8,79.7 329.0,78.8 329.3,88.7 329.5,79.1 329.8,78.2 330.1,87.4 330.3,81.2 330.6,87.7 330.8,91.1 331.1,83.7 331.4,91.8 331.6,81.9 331.9,79.3 332.1,77.5 332.4,84.9 332.7,90.0 332.9,77.3 333.2,77.7 333.4,76.1 333.7,81.7 334.0,80.4 334.2,84.7 334.5,87.3 334.7,85.5 335.0,79.1 335.3,84.6 335.5,89.0 335.8,81.7 336.0,82.2 336.3,98.6 336.6,85.7 336.8,81.2 337.1,101.0 337.3,75.0 337.6,93.4 337.9,82.4 338.1,84.2 338.4,78.7 338.6,87.0 338.9,84.0 339.2,84.9 339.4,87.2 339.7,78.0 339.9,78.6 340.2,85.7 340.5,74.1 340.7,73.7 341.0,75.2 341.2,71.3 341.5,78.2 341.7,79.6 342.0,90.9 342.3,83.5 342.5,74.9 342.8,70.0 343.0,83.4 343.3,78.5 343.6,75.6 343.8,78.7 344.1,79.5 344.3,76.1 344.6,81.6 344.9,83.2 345.1,76.7 345.4,77.4 345.6,73.6 345.9,78.5 346.2,74.4 346.4,82.8 346.7,82.7 346.9,76.3 347.2,96.6 347.5,82.0 347.7,81.3 348.0,78.6 348.2,78.9 348.5,76.4 348.8,72.8 349.0,78.4 349.3,80.4 349.5,76.0 349.8,82.3 350.1,78.0 350.3,69.5 350.6,77.9 350.8,81.5 351.1,76.0 351.4,75.2 351.6,73.8 351.9,82.9 352.1,78.0 352.4,74.7 352.7,77.0 352.9,79.5 353.2,72.1 353.4,70.0 353.7,71.4 353.9,72.7 354.2,71.6 354.5,80.3 354.7,81.5 355.0,79.5 355.2,77.1 355.5,74.0 355.8,76.7 356.0,75.9 356.3,73.1 356.5,80.8 356.8,74.0 357.1,81.0 357.3,78.7 357.6,88.4 357.8,73.8 358.1,76.9 358.4,78.1 358.6,72.0 358.9,78.3 359.1,81.0 359.4,78.5 359.7,81.1 359.9,72.1 360.2,79.9 360.4,70.2 360.7,78.8 361.0,88.0 361.2,87.9 361.5,68.0 361.7,76.8 362.0,79.9 362.3,76.6 362.5,80.8 362.8,90.0 363.0,70.6 363.3,66.8 363.6,77.9 363.8,73.1 364.1,68.5 364.3,67.3 364.6,76.5 364.8,72.6 365.1,71.7 365.4,73.7 365.6,89.9 365.9,78.7 366.1,71.9 366.4,84.2 366.7,70.2 366.9,71.6 367.2,75.7 367.4,79.1 367.7,70.1 368.0,72.4 368.2,66.9 368.5,72.5 368.7,76.0 369.0,76.4 369.3,73.6 369.5,74.7 369.8,72.0 370.0,69.3 370.3,70.3 370.6,75.7 370.8,75.8 371.1,69.2 371.3,75.5 371.6,70.7 371.9,79.0 372.1,74.7 372.4,73.9 372.6,70.4 372.9,93.5 373.2,78.2 373.4,72.6 373.7,72.4 373.9,78.1 374.2,69.9 374.5,73.2 374.7,68.3 375.0,77.5 375.2,73.4 375.5,75.8 375.8,72.0 376.0,72.3 376.3,73.5 376.5,75.7 376.8,73.5 377.0,65.3 377.3,68.8 377.6,73.9 377.8,73.7 378.1,76.3 378.3,76.3 378.6,67.8 378.9,75.5 379.1,68.8 379.4,72.1 379.6,67.4 379.9,77.2 380.2,67.8 380.4,69.9 380.7,72.3 380.9,70.6 381.2,70.5 381.5,73.8 381.7,71.5 382.0,76.5 382.2,79.0 382.5,71.0 382.8,73.5 383.0,68.2 383.3,76.0 383.5,69.3 383.8,67.3 384.1,68.3 384.3,67.5 384.6,77.3 384.8,77.3 385.1,76.5 385.4,88.1 385.6,77.9 385.9,77.5 386.1,79.1 386.4,67.9 386.7,74.9 386.9,71.7 387.2,73.8 387.4,70.2 387.7,69.4 388.0,74.6 388.2,72.8 388.5,78.2 388.7,75.9 389.0,76.6 389.2,75.6 389.5,75.4 389.8,72.3 390.0,75.3 390.3,75.4 390.5,69.1 390.8,79.2 391.1,85.4 391.3,78.7 391.6,68.7 391.8,71.6 392.1,70.4 392.4,67.6 392.6,76.7 392.9,68.0 393.1,76.4 393.4,73.0 393.7,71.0 393.9,69.6 394.2,76.4 394.4,73.5 394.7,78.9 395.0,75.9 395.2,67.3 395.5,95.8 395.7,72.2 396.0,91.4 396.3,68.3 396.5,75.4 396.8,67.3 397.0,73.9 397.3,77.5 397.6,72.9 397.8,72.1 398.1,70.9 398.3,71.1 398.6,79.0 398.9,71.5 399.1,68.0 399.4,71.2 399.6,67.3 399.9,73.1 400.1,82.3 400.4,96.0 400.7,68.3 400.9,74.1 401.2,65.8 401.4,75.5 401.7,71.7 402.0,89.4 402.2,70.6 402.5,71.8 402.7,67.4 403.0,78.5 403.3,78.3 403.5,72.7 403.8,67.6 404.0,71.0 404.3,75.7 404.6,78.3 404.8,66.3 405.1,73.6 405.3,73.7 405.6,71.8 405.9,85.4 406.1,68.5 406.4,76.0 406.6,78.3 406.9,75.3 407.2,67.8 407.4,77.7 407.7,76.2 407.9,64.8 408.2,75.3 408.5,69.0 408.7,79.1 409.0,68.4 409.2,76.7 409.5,77.4 409.8,70.3 410.0,67.1 410.3,67.5 410.5,70.1 410.8,68.1 411.1,67.1 411.3,72.7 411.6,77.9 411.8,68.9 412.1,74.7 412.3,75.8 412.6,73.4 412.9,79.3 413.1,79.6 413.4,76.4 413.6,72.1 413.9,70.2 414.2,67.5 414.4,69.3 414.7,67.7 414.9,83.8 415.2,70.4 415.5,72.3 415.7,78.8 416.0,79.0 416.2,70.0 416.5,77.2 416.8,69.7 417.0,73.9 417.3,79.8 417.5,72.6 417.8,81.0 418.1,78.9 418.3,84.0 418.6,75.9 418.8,75.4 419.1,70.7 419.4,77.7 419.6,74.2 419.9,72.0 420.1,67.6 420.4,78.4 420.7,78.9 420.9,77.4 421.2,77.1 421.4,77.8 421.7,79.0 422.0,77.2 422.2,77.0 422.5,73.7 422.7,71.5 423.0,75.2 423.3,84.9 423.5,78.7 423.8,85.8 424.0,77.7 424.3,73.7 424.5,68.6 424.8,70.6 425.1,77.3 425.3,79.5 425.6,79.1 425.8,74.3 426.1,75.2 426.4,71.1 426.6,78.9 426.9,64.2 427.1,96.8 427.4,72.6 427.7,73.2 427.9,68.2 428.2,78.6 428.4,77.5 428.7,72.6 429.0,72.6 429.2,67.1 429.5,90.1 429.7,72.3 430.0,83.3 430.3,70.9 430.5,78.3 430.8,86.4 431.0,87.4 431.3,81.5 431.6,78.0 431.8,80.0 432.1,68.8 432.3,70.6 432.6,65.4 432.9,76.3 433.1,74.6 433.4,77.8 433.6,72.2 433.9,69.0 434.2,69.8 434.4,67.7 434.7,76.7 434.9,70.8 435.2,78.5 435.5,73.0 435.7,78.7 436.0,73.0 436.2,73.0 436.5,75.6 436.7,75.5 437.0,70.7 437.3,73.8 437.5,74.8 437.8,78.7 438.0,76.5 438.3,68.9 438.6,67.2 438.8,75.2 439.1,68.6 439.3,68.5 439.6,88.2 439.9,76.6 440.1,70.9 440.4,76.2 440.6,67.4 440.9,75.4 441.2,70.5 441.4,66.4 441.7,77.4 441.9,68.6 442.2,75.9 442.5,78.8 442.7,88.9 443.0,74.2 443.2,71.8 443.5,76.7 443.8,69.0 444.0,76.7 444.3,68.9 444.5,79.9 444.8,76.8 445.1,78.2 445.3,74.3 445.6,75.6 445.8,75.0 446.1,68.8 446.4,72.5 446.6,72.2 446.9,75.1 447.1,69.4 447.4,73.6 447.6,70.3 447.9,95.8 448.2,72.1 448.4,74.5 448.7,76.8 448.9,68.0 449.2,70.0 449.5,69.5 449.7,77.4 450.0,74.5 450.2,68.4 450.5,77.1 450.8,87.8 451.0,73.1 451.3,77.5 451.5,75.3 451.8,79.4 452.1,71.3 452.3,70.5 452.6,80.1 452.8,76.4 453.1,70.0 453.4,92.2 453.6,73.1 453.9,69.4 454.1,72.7 454.4,78.8 454.7,68.0 454.9,70.3 455.2,72.8 455.4,76.0 455.7,72.5 456.0,75.2 456.2,78.9 456.5,78.9 456.7,79.9 457.0,78.2 457.3,77.2 457.5,71.8 457.8,72.6 458.0,72.4 458.3,69.2 458.6,92.1 458.8,75.2 459.1,79.5 459.3,74.8 459.6,79.5 459.8,79.7 460.1,79.2 460.4,75.2 460.6,70.0 460.9,76.7 461.1,70.3 461.4,77.4 461.7,83.6 461.9,74.1 462.2,79.6 462.4,74.4 462.7,72.5 463.0,69.2 463.2,79.9 463.5,69.5 463.7,72.7 464.0,72.6 464.3,80.0 464.5,68.4 464.8,76.8 465.0,73.1 465.3,73.2 465.6,68.0 465.8,72.3 466.1,66.8 466.3,77.5 466.6,71.5 466.9,72.7 467.1,73.5 467.4,71.9 467.6,73.0 467.9,76.0 468.2,71.7 468.4,79.6 468.7,74.0 468.9,74.4 469.2,77.8 469.5,72.8 469.7,71.4" fill="none" stroke="#ab002e" stroke-width="2.4" stroke-linejoin="miter" stroke-miterlimit="2"/>
<text x="431.30" y="60.60" font-size="11.2" text-anchor="start" font-weight="bold" fill="#8e1838" stroke="#8e1838" stroke-width="0.35" textLength="36.5" lengthAdjust="spacingAndGlyphs">– NAC</text>
<text x="431.70" y="165.40" font-size="11.2" text-anchor="start" font-weight="bold" fill="#27375f" stroke="#27375f" stroke-width="0.35" textLength="35.8" lengthAdjust="spacingAndGlyphs">+ NAC</text>
<text x="429.80" y="254.00" font-size="11.2" text-anchor="start" font-weight="bold" fill="#5c973a" stroke="#5c973a" stroke-width="0.35" textLength="32.5" lengthAdjust="spacingAndGlyphs">+ 6B4</text>
<text x="204.50" y="359.20" font-size="16.5" text-anchor="start" font-weight="bold" fill="#111" stroke="#111" stroke-width="0.2">D</text>
<line x1="264.40" y1="367.50" x2="264.40" y2="618.30" stroke="#141414" stroke-width="1.6"/>
<line x1="259.80" y1="613.60" x2="264.40" y2="613.60" stroke="#141414" stroke-width="1.6"/>
<text x="255.20" y="617.70" font-size="11.5" text-anchor="end" font-weight="normal" fill="#1c1c1c" stroke="#1c1c1c" stroke-width="0.35">-10</text>
<line x1="259.80" y1="573.20" x2="264.40" y2="573.20" stroke="#141414" stroke-width="1.6"/>
<text x="255.20" y="577.30" font-size="11.5" text-anchor="end" font-weight="normal" fill="#1c1c1c" stroke="#1c1c1c" stroke-width="0.35">0</text>
<line x1="259.80" y1="532.80" x2="264.40" y2="532.80" stroke="#141414" stroke-width="1.6"/>
<text x="255.20" y="536.90" font-size="11.5" text-anchor="end" font-weight="normal" fill="#1c1c1c" stroke="#1c1c1c" stroke-width="0.35">10</text>
<line x1="259.80" y1="492.40" x2="264.40" y2="492.40" stroke="#141414" stroke-width="1.6"/>
<text x="255.20" y="496.50" font-size="11.5" text-anchor="end" font-weight="normal" fill="#1c1c1c" stroke="#1c1c1c" stroke-width="0.35">20</text>
<line x1="259.80" y1="452.00" x2="264.40" y2="452.00" stroke="#141414" stroke-width="1.6"/>
<text x="255.20" y="456.10" font-size="11.5" text-anchor="end" font-weight="normal" fill="#1c1c1c" stroke="#1c1c1c" stroke-width="0.35">30</text>
<line x1="259.80" y1="411.60" x2="264.40" y2="411.60" stroke="#141414" stroke-width="1.6"/>
<text x="255.20" y="415.70" font-size="11.5" text-anchor="end" font-weight="normal" fill="#1c1c1c" stroke="#1c1c1c" stroke-width="0.35">40</text>
<line x1="259.80" y1="371.20" x2="264.40" y2="371.20" stroke="#141414" stroke-width="1.6"/>
<text x="255.20" y="375.30" font-size="11.5" text-anchor="end" font-weight="normal" fill="#1c1c1c" stroke="#1c1c1c" stroke-width="0.35">50</text>
<line x1="259.80" y1="613.70" x2="507.50" y2="613.70" stroke="#141414" stroke-width="1.6"/>
<line x1="264.20" y1="613.70" x2="264.20" y2="618.30" stroke="#141414" stroke-width="1.6"/>
<text x="264.20" y="633.40" font-size="11.5" text-anchor="middle" font-weight="normal" fill="#1c1c1c" stroke="#1c1c1c" stroke-width="0.35">0</text>
<line x1="304.05" y1="613.70" x2="304.05" y2="618.30" stroke="#141414" stroke-width="1.6"/>
<text x="304.05" y="633.40" font-size="11.5" text-anchor="middle" font-weight="normal" fill="#1c1c1c" stroke="#1c1c1c" stroke-width="0.35">5</text>
<line x1="343.90" y1="613.70" x2="343.90" y2="618.30" stroke="#141414" stroke-width="1.6"/>
<text x="343.90" y="633.40" font-size="11.5" text-anchor="middle" font-weight="normal" fill="#1c1c1c" stroke="#1c1c1c" stroke-width="0.35">10</text>
<line x1="383.75" y1="613.70" x2="383.75" y2="618.30" stroke="#141414" stroke-width="1.6"/>
<text x="383.75" y="633.40" font-size="11.5" text-anchor="middle" font-weight="normal" fill="#1c1c1c" stroke="#1c1c1c" stroke-width="0.35">15</text>
<line x1="423.60" y1="613.70" x2="423.60" y2="618.30" stroke="#141414" stroke-width="1.6"/>
<text x="423.60" y="633.40" font-size="11.5" text-anchor="middle" font-weight="normal" fill="#1c1c1c" stroke="#1c1c1c" stroke-width="0.35">20</text>
<line x1="463.45" y1="613.70" x2="463.45" y2="618.30" stroke="#141414" stroke-width="1.6"/>
<text x="463.45" y="633.40" font-size="11.5" text-anchor="middle" font-weight="normal" fill="#1c1c1c" stroke="#1c1c1c" stroke-width="0.35">25</text>
<line x1="503.30" y1="613.70" x2="503.30" y2="618.30" stroke="#141414" stroke-width="1.6"/>
<text x="503.30" y="633.40" font-size="11.5" text-anchor="middle" font-weight="normal" fill="#1c1c1c" stroke="#1c1c1c" stroke-width="0.35">30</text>
<text x="352.40" y="653.60" font-size="15" text-anchor="start" font-weight="normal" fill="#1c1c1c" stroke="#1c1c1c" stroke-width="0.35" textLength="62.5" lengthAdjust="spacingAndGlyphs">Time (min)</text>
<text transform="translate(229.80,493.10) rotate(-90)" x="0" y="0" font-size="15" text-anchor="middle" fill="#1c1c1c" stroke="#1c1c1c" stroke-width="0.3" textLength="101.5" lengthAdjust="spacingAndGlyphs">Agglutination (%)</text>
<polyline points="264.2,570.1 264.4,570.9 264.6,573.0 264.8,571.6 265.0,572.0 265.2,573.8 265.4,573.7 265.6,573.9 265.8,575.1 266.0,574.7 266.2,574.8 266.4,574.8 266.6,576.9 266.8,577.0 267.0,576.9 267.2,578.8 267.4,582.1 267.6,587.9 267.8,588.8 268.0,593.7 268.2,596.4 268.4,598.6 268.6,601.1 268.8,606.0 269.0,606.9 269.2,610.2 269.4,604.7 269.6,600.5 269.8,598.4 270.0,594.5 270.2,588.3 270.4,586.5 270.6,580.4 270.8,575.7 271.0,574.6 271.2,570.0 271.4,567.6 271.6,563.4 271.8,559.9 272.0,558.6 272.2,555.6 272.4,552.8 272.6,547.8 272.8,545.1 273.0,541.7 273.2,541.0 273.4,538.2 273.6,538.9 273.8,534.8 274.0,534.7 274.2,532.8 274.4,529.7 274.6,528.3 274.8,528.8 275.0,526.4 275.2,522.5 275.4,523.4 275.6,519.7 275.8,519.4 276.0,517.3 276.2,514.4 276.4,513.1 276.6,514.4 276.8,509.9 277.0,511.9 277.2,508.1 277.4,507.0 277.5,507.7 277.7,502.3 277.9,502.4 278.1,499.5 278.3,499.3 278.5,498.1 278.7,499.6 278.9,496.7 279.1,494.7 279.3,497.3 279.5,496.4 279.7,491.6 279.9,491.3 280.1,491.7 280.3,486.8 280.5,489.7 280.7,486.6 280.9,492.4 281.1,484.2 281.3,480.3 281.5,483.9 281.7,486.0 281.9,481.0 282.1,490.9 282.3,478.4 282.5,483.3 282.7,485.0 282.9,482.2 283.1,486.4 283.3,485.7 283.5,477.0 283.7,482.0 283.9,475.7 284.1,473.1 284.3,476.2 284.5,483.8 284.7,474.0 284.9,479.1 285.1,474.7 285.3,482.7 285.5,480.6 285.7,475.0 285.9,474.7 286.1,481.5 286.3,472.1 286.5,469.7 286.7,475.8 286.9,475.2 287.1,473.2 287.3,476.5 287.5,474.5 287.7,470.3 287.9,476.2 288.1,473.9 288.3,466.8 288.5,466.2 288.7,474.8 288.9,466.0 289.1,474.5 289.3,470.4 289.5,472.4 289.7,472.5 289.9,468.3 290.1,470.7 290.3,466.6 290.5,471.2 290.7,465.7 290.9,464.1 291.1,467.2 291.3,465.9 291.5,464.2 291.7,463.5 291.9,468.5 292.1,463.4 292.3,466.7 292.5,464.8 292.7,462.0 292.9,462.6 293.1,467.2 293.3,466.2 293.5,468.2 293.7,466.3 293.9,460.4 294.1,460.9 294.3,461.9 294.5,459.6 294.7,459.9 294.9,464.5 295.1,465.6 295.3,459.2 295.5,466.0 295.7,463.3 295.9,463.0 296.1,463.3 296.3,463.6 296.5,457.9 296.7,459.7 296.9,457.1 297.1,460.8 297.3,458.7 297.5,460.4 297.7,459.7 297.9,456.6 298.1,457.6 298.3,460.7 298.5,456.6 298.7,455.1 298.9,457.7 299.1,453.4 299.3,454.2 299.5,459.0 299.7,454.5 299.9,455.0 300.1,454.7 300.3,458.1 300.5,459.3 300.7,458.5 300.9,452.5 301.1,455.5 301.3,455.4 301.5,451.9 301.7,455.7 301.9,454.7 302.1,457.9 302.3,459.7 302.5,455.3 302.7,456.1 302.9,457.4 303.1,459.2 303.3,457.9 303.5,457.6 303.7,456.0 303.9,453.4 304.1,459.3 304.2,454.2 304.4,457.4 304.6,453.9 304.8,455.9 305.0,459.4 305.2,457.4 305.4,455.0 305.6,456.6 305.8,456.1 306.0,454.6 306.2,455.7 306.4,455.6 306.6,456.3 306.8,453.9 307.0,452.9 307.2,456.8 307.4,452.7 307.6,454.7 307.8,452.6 308.0,453.0 308.2,456.9 308.4,454.5 308.6,457.2 308.8,458.3 309.0,452.6 309.2,451.3 309.4,452.9 309.6,453.7 309.8,452.2 310.0,454.6 310.2,452.9 310.4,452.6 310.6,456.5 310.8,454.8 311.0,457.9 311.2,450.7 311.4,450.4 311.6,453.2 311.8,457.5 312.0,458.2 312.2,454.6 312.4,452.3 312.6,453.9 312.8,456.9 313.0,456.9 313.2,454.0 313.4,450.1 313.6,456.4 313.8,450.5 314.0,454.5 314.2,455.3 314.4,454.4 314.6,455.0 314.8,456.3 315.0,453.1 315.2,454.1 315.4,453.6 315.6,455.0 315.8,452.1 316.0,457.6 316.2,449.2 316.4,456.0 316.6,453.8 316.8,452.8 317.0,451.8 317.2,453.4 317.4,451.6 317.6,456.1 317.8,455.1 318.0,457.2 318.2,449.9 318.4,452.1 318.6,451.9 318.8,455.8 319.0,450.3 319.2,456.6 319.4,450.8 319.6,457.3 319.8,448.8 320.0,449.2 320.2,448.0 320.4,453.1 320.6,451.8 320.8,450.3 321.0,456.3 321.2,456.6 321.4,453.5 321.6,457.1 321.8,451.3 322.0,450.8 322.2,448.3 322.4,448.5 322.6,456.0 322.8,450.6 323.0,448.4 323.2,448.3 323.4,454.6 323.6,451.9 323.8,457.2 324.0,455.0 324.2,447.8 324.4,454.5 324.6,450.8 324.8,451.1 325.0,448.6 325.2,454.1 325.4,454.9 325.6,450.1 325.8,450.4 326.0,451.9 326.2,456.6 326.4,449.8 326.6,453.3 326.8,454.9 327.0,450.9 327.2,453.5 327.4,454.8 327.6,450.3 327.8,457.1 328.0,450.1 328.2,453.4 328.4,453.9 328.6,455.8 328.8,450.8 329.0,448.3 329.2,450.0 329.4,449.0 329.6,457.2 329.8,449.6 330.0,447.3 330.2,447.8 330.4,453.2 330.6,450.2 330.7,451.4 330.9,455.7 331.1,451.0 331.3,456.4 331.5,455.2 331.7,454.7 331.9,452.0 332.1,450.0 332.3,448.7 332.5,456.7 332.7,447.2 332.9,448.6 333.1,452.9 333.3,455.8 333.5,455.1 333.7,454.4 333.9,451.1 334.1,450.9 334.3,452.3 334.5,457.0 334.7,450.0 334.9,452.8 335.1,446.9 335.3,452.4 335.5,448.3 335.7,448.6 335.9,455.1 336.1,450.6 336.3,457.1 336.5,452.9 336.7,446.6 336.9,455.2 337.1,451.0 337.3,447.7 337.5,447.5 337.7,448.3 337.9,452.3 338.1,448.6 338.3,455.1 338.5,455.8 338.7,447.6 338.9,448.7 339.1,455.1 339.3,451.5 339.5,446.3 339.7,450.2 339.9,447.0 340.1,447.1 340.3,454.9 340.5,448.3 340.7,455.4 340.9,450.3 341.1,450.9 341.3,449.5 341.5,450.5 341.7,447.8 341.9,449.5 342.1,454.8 342.3,447.9 342.5,454.1 342.7,453.7 342.9,450.6 343.1,446.2 343.3,446.4 343.5,449.2 343.7,447.5 343.9,455.8 344.1,449.3 344.3,446.0 344.5,452.8 344.7,454.5 344.9,449.3 345.1,446.4 345.3,446.7 345.5,451.1 345.7,448.1 345.9,448.0 346.1,455.1 346.3,451.1 346.5,447.9 346.7,452.1 346.9,454.5 347.1,448.6 347.3,455.6 347.5,454.6 347.7,452.5 347.9,449.9 348.1,453.6 348.3,454.3 348.5,456.4 348.7,449.5 348.9,446.3 349.1,448.7 349.3,454.0 349.5,453.2 349.7,446.1 349.9,449.0 350.1,451.4 350.3,454.5 350.5,450.2 350.7,447.1 350.9,451.2 351.1,455.1 351.3,446.3 351.5,448.9 351.7,450.0 351.9,447.2 352.1,451.5 352.3,451.1 352.5,455.3 352.7,446.3 352.9,446.7 353.1,456.1 353.3,455.4 353.5,456.3 353.7,456.4 353.9,447.9 354.1,454.2 354.3,456.5 354.5,447.0 354.7,454.4 354.9,446.7 355.1,449.4 355.3,456.5 355.5,452.2 355.7,455.7 355.9,455.2 356.1,456.0 356.3,447.9 356.5,453.3 356.7,451.8 356.9,453.9 357.1,453.1 357.2,446.7 357.4,454.8 357.6,450.8 357.8,449.7 358.0,446.8 358.2,452.1 358.4,452.2 358.6,454.4 358.8,448.8 359.0,455.5 359.2,456.7 359.4,456.2 359.6,449.4 359.8,449.2 360.0,448.4 360.2,449.3 360.4,456.5 360.6,454.3 360.8,452.0 361.0,455.3 361.2,450.6 361.4,449.6 361.6,451.0 361.8,451.2 362.0,456.0 362.2,455.9 362.4,447.3 362.6,453.4 362.8,449.4 363.0,451.0 363.2,452.3 363.4,456.7 363.6,446.6 363.8,452.9 364.0,456.5 364.2,456.8 364.4,448.8 364.6,453.6 364.8,448.3 365.0,453.9 365.2,451.6 365.4,453.2 365.6,447.9 365.8,447.3 366.0,454.4 366.2,454.0 366.4,453.0 366.6,454.6 366.8,452.3 367.0,450.9 367.2,453.6 367.4,456.4 367.6,448.1 367.8,452.1 368.0,456.6 368.2,457.0 368.4,454.2 368.6,455.1 368.8,450.1 369.0,453.5 369.2,456.6 369.4,455.8 369.6,448.7 369.8,453.9 370.0,448.4 370.2,454.1 370.4,450.0 370.6,450.8 370.8,455.1 371.0,447.2 371.2,455.4 371.4,447.9 371.6,453.4 371.8,454.5 372.0,452.8 372.2,451.4 372.4,449.4 372.6,449.0 372.8,452.6 373.0,454.9 373.2,453.2 373.4,452.3 373.6,452.5 373.8,451.7 374.0,454.9 374.2,447.2 374.4,453.2 374.6,451.1 374.8,449.9 375.0,451.0 375.2,450.8 375.4,451.0 375.6,448.9 375.8,453.7 376.0,447.5 376.2,457.1 376.4,449.8 376.6,455.0 376.8,451.9 377.0,449.7 377.2,453.8 377.4,449.0 377.6,453.6 377.8,455.5 378.0,453.5 378.2,456.9 378.4,456.0 378.6,448.4 378.8,454.9 379.0,447.3 379.2,451.3 379.4,453.3 379.6,447.1 379.8,454.0 380.0,454.3 380.2,450.9 380.4,455.6 380.6,449.9 380.8,455.4 381.0,451.0 381.2,451.6 381.4,451.2 381.6,451.5 381.8,449.1 382.0,447.1 382.2,454.3 382.4,452.9 382.6,451.6 382.8,455.1 383.0,452.5 383.2,449.3 383.4,456.0 383.6,454.9 383.8,449.4 383.9,449.3 384.1,450.9 384.3,451.5 384.5,456.3 384.7,451.5 384.9,448.5 385.1,450.3 385.3,450.1 385.5,450.5 385.7,448.3 385.9,447.2 386.1,447.3 386.3,455.7 386.5,452.3 386.7,452.5 386.9,452.0 387.1,449.7 387.3,457.2 387.5,456.2 387.7,452.3 387.9,449.3 388.1,454.1 388.3,455.4 388.5,452.8 388.7,451.8 388.9,447.4 389.1,447.6 389.3,448.1 389.5,449.9 389.7,451.4 389.9,451.5 390.1,449.5 390.3,448.9 390.5,454.8 390.7,450.3 390.9,447.8 391.1,453.9 391.3,448.8 391.5,450.4 391.7,457.1 391.9,457.2 392.1,455.5 392.3,452.3 392.5,454.0 392.7,455.6 392.9,454.8 393.1,455.5 393.3,448.8 393.5,455.8 393.7,454.3 393.9,448.4 394.1,453.6 394.3,454.2 394.5,453.2 394.7,450.8 394.9,450.6 395.1,448.8 395.3,451.5 395.5,456.2 395.7,448.1 395.9,454.9 396.1,450.5 396.3,452.2 396.5,456.4 396.7,454.7 396.9,453.0 397.1,455.9 397.3,448.4 397.5,455.0 397.7,451.0 397.9,451.0 398.1,449.4 398.3,452.5 398.5,447.7 398.7,456.3 398.9,453.5 399.1,453.1 399.3,451.0 399.5,457.1 399.7,448.2 399.9,448.9 400.1,452.3 400.3,451.6 400.5,453.7 400.7,449.7 400.9,451.1 401.1,457.3 401.3,447.8 401.5,453.7 401.7,448.8 401.9,450.0 402.1,451.3 402.3,453.4 402.5,450.7 402.7,453.4 402.9,451.8 403.1,457.2 403.3,447.6 403.5,452.8 403.7,453.5 403.9,455.7 404.1,451.7 404.3,457.1 404.5,449.0 404.7,452.2 404.9,448.4 405.1,454.6 405.3,456.3 405.5,453.7 405.7,457.0 405.9,451.5 406.1,447.6 406.3,454.8 406.5,448.8 406.7,456.1 406.9,452.9 407.1,451.5 407.3,457.2 407.5,448.4 407.7,457.0 407.9,456.7 408.1,447.8 408.3,449.5 408.5,449.1 408.7,451.0 408.9,451.0 409.1,455.4 409.3,452.3 409.5,449.3 409.7,452.5 409.9,457.1 410.1,455.3 410.3,457.1 410.4,451.4 410.6,451.7 410.8,449.6 411.0,450.7 411.2,453.2 411.4,453.5 411.6,450.2 411.8,449.1 412.0,451.6 412.2,451.6 412.4,450.3 412.6,448.9 412.8,457.0 413.0,448.8 413.2,454.9 413.4,451.5 413.6,447.7 413.8,449.5 414.0,455.7 414.2,447.8 414.4,454.8 414.6,454.2 414.8,455.9 415.0,452.3 415.2,448.2 415.4,448.5 415.6,448.3 415.8,448.8 416.0,451.4 416.2,456.9 416.4,457.2 416.6,454.5 416.8,452.4 417.0,454.0 417.2,451.8 417.4,453.0 417.6,452.1 417.8,449.2 418.0,452.6 418.2,456.5 418.4,448.9 418.6,451.8 418.8,450.0 419.0,456.2 419.2,449.1 419.4,449.0 419.6,451.8 419.8,457.2 420.0,455.0 420.2,454.1 420.4,450.9 420.6,451.1 420.8,453.7 421.0,456.7 421.2,455.9 421.4,453.4 421.6,456.0 421.8,451.6 422.0,448.2 422.2,453.4 422.4,455.5 422.6,456.5 422.8,451.5 423.0,455.5 423.2,455.9 423.4,449.7 423.6,455.2 423.8,455.6 424.0,457.7 424.2,450.7 424.4,453.4 424.6,454.1 424.8,456.0 425.0,449.7 425.2,453.7 425.4,450.0 425.6,453.4 425.8,454.7 426.0,450.5 426.2,454.6 426.4,452.4 426.6,454.2 426.8,449.7 427.0,453.5 427.2,449.1 427.4,451.3 427.6,455.3 427.8,454.8 428.0,449.8 428.2,454.7 428.4,455.0 428.6,450.2 428.8,457.3 429.0,453.3 429.2,451.2 429.4,454.6 429.6,449.5 429.8,451.1 430.0,456.3 430.2,453.2 430.4,458.2 430.6,450.5 430.8,449.4 431.0,450.6 431.2,449.0 431.4,452.0 431.6,456.3 431.8,455.8 432.0,454.5 432.2,458.2 432.4,457.8 432.6,457.6 432.8,455.9 433.0,457.6 433.2,454.0 433.4,451.8 433.6,456.4 433.8,458.5 434.0,451.4 434.2,454.2 434.4,458.3 434.6,452.6 434.8,449.2 435.0,456.2 435.2,455.4 435.4,456.1 435.6,451.3 435.8,456.6 436.0,454.1 436.2,450.1 436.4,451.1 436.6,450.6 436.8,452.9 436.9,452.7 437.1,459.0 437.3,455.3 437.5,450.3 437.7,451.3 437.9,453.4 438.1,453.9 438.3,452.9 438.5,452.5 438.7,457.1 438.9,452.7 439.1,458.8 439.3,456.9 439.5,458.3 439.7,455.2 439.9,452.3 440.1,454.6 440.3,453.7 440.5,454.8 440.7,458.5 440.9,453.0 441.1,457.3 441.3,456.0 441.5,450.2 441.7,457.5 441.9,458.7 442.1,450.7 442.3,452.8 442.5,458.4 442.7,456.5 442.9,449.7 443.1,457.8 443.3,455.2 443.5,451.5 443.7,457.7 443.9,451.3 444.1,452.5 444.3,459.2 444.5,450.9 444.7,452.4 444.9,458.7 445.1,454.7 445.3,452.2 445.5,452.8 445.7,459.8 445.9,460.1 446.1,454.5 446.3,450.9 446.5,453.4 446.7,453.9 446.9,453.7 447.1,455.5 447.3,460.6 447.5,451.0 447.7,452.1 447.9,460.0 448.1,454.3 448.3,452.2 448.5,450.7 448.7,450.8 448.9,455.3 449.1,455.5 449.3,458.0 449.5,454.2 449.7,450.9 449.9,453.7 450.1,453.2 450.3,457.9 450.5,451.2 450.7,454.6 450.9,459.4 451.1,451.0 451.3,455.4 451.5,457.7 451.7,455.3 451.9,453.3 452.1,456.7 452.3,454.6 452.5,458.5 452.7,450.4 452.9,452.7 453.1,450.9 453.3,459.1 453.5,451.9 453.7,457.0 453.9,458.5 454.1,459.7 454.3,457.5 454.5,458.6 454.7,456.6 454.9,451.9 455.1,458.6 455.3,458.4 455.5,461.0 455.7,454.8 455.9,456.2 456.1,451.1 456.3,452.5 456.5,452.6 456.7,453.7 456.9,457.0 457.1,461.6 457.3,457.6 457.5,461.3 457.7,455.5 457.9,457.6 458.1,455.1 458.3,456.2 458.5,454.1 458.7,460.2 458.9,462.5 459.1,462.6 459.3,467.8 459.5,454.3 459.7,454.9 459.9,458.2 460.1,459.0 460.3,454.1 460.5,452.7 460.7,452.1 460.9,454.4 461.1,457.1 461.3,461.3 461.5,456.4 461.7,461.7 461.9,462.1 462.1,455.3 462.3,463.2 462.5,461.7 462.7,453.4 462.9,454.0 463.1,453.2 463.3,464.0 463.4,457.2 463.6,454.2 463.8,463.1 464.0,453.8 464.2,457.4 464.4,456.9 464.6,453.7 464.8,456.1 465.0,459.7 465.2,463.0 465.4,456.3 465.6,456.0 465.8,464.9 466.0,464.0 466.2,465.2 466.4,456.7 466.6,463.7 466.8,454.0 467.0,454.5 467.2,461.6 467.4,463.1 467.6,455.2 467.8,457.5 468.0,456.8 468.2,468.9 468.4,467.5 468.6,452.3 468.8,451.9 469.0,462.7 469.2,456.4 469.4,463.2 469.6,464.2 469.8,455.8 470.0,457.7 470.2,461.4 470.4,465.3 470.6,470.6 470.8,464.2 471.0,452.3 471.2,456.5 471.4,465.5 471.6,460.3 471.8,454.5 472.0,466.5 472.2,451.5 472.4,462.6 472.6,460.6 472.8,464.1 473.0,461.1 473.2,461.7 473.4,453.3 473.6,463.5 473.8,460.7 474.0,461.8 474.2,465.2 474.4,451.9 474.6,451.7 474.8,463.5 475.0,460.0 475.2,458.3 475.4,463.8 475.6,456.5 475.8,455.7 476.0,458.5 476.2,456.6 476.4,463.0 476.6,466.6 476.8,457.6 477.0,458.0 477.2,458.0 477.4,452.0 477.6,456.2 477.8,452.3 478.0,457.0 478.2,455.7 478.4,468.8 478.6,465.3 478.8,463.6 479.0,458.7 479.2,455.5 479.4,458.9 479.6,458.9 479.8,454.9 480.0,469.7 480.2,455.7 480.4,468.3 480.6,457.9 480.8,452.5 481.0,456.8 481.2,456.7 481.4,467.9 481.6,458.7 481.8,466.2 482.0,466.3 482.2,456.0 482.4,458.8 482.6,457.5 482.8,458.2 483.0,463.9 483.2,465.8 483.4,459.0 483.6,457.0 483.8,469.1 484.0,463.8 484.2,458.1 484.4,460.7 484.6,453.7 484.8,473.0 485.0,456.1 485.2,454.7 485.4,469.5 485.6,467.8 485.8,454.4 486.0,454.2 486.2,455.0 486.4,468.8 486.6,465.8 486.8,461.0 487.0,452.5 487.2,466.8 487.4,454.6 487.6,465.1 487.8,469.6 488.0,467.5 488.2,463.2 488.4,464.0 488.6,458.1 488.8,454.2 489.0,461.3 489.2,465.4 489.4,462.8 489.6,468.7 489.8,456.2 490.0,470.2 490.1,455.2 490.3,462.4 490.5,455.4 490.7,453.4 490.9,467.5 491.1,467.1 491.3,468.1 491.5,457.6 491.7,465.7 491.9,466.2 492.1,461.9 492.3,455.6 492.5,465.2 492.7,468.4 492.9,469.6 493.1,453.5 493.3,457.9 493.5,469.3 493.7,469.0 493.9,453.2 494.1,464.9 494.3,464.2 494.5,463.4 494.7,473.9 494.9,462.8 495.1,455.0 495.3,463.2 495.5,458.6 495.7,454.4 495.9,453.1 496.1,465.0 496.3,468.2 496.5,462.3 496.7,454.1 496.9,460.8 497.1,469.2 497.3,466.7 497.5,462.3 497.7,475.0 497.9,470.2 498.1,464.0 498.3,461.0 498.5,461.0 498.7,453.4 498.9,470.7 499.1,458.0 499.3,465.9 499.5,462.2 499.7,462.0 499.9,468.7 500.1,459.5 500.3,465.7 500.5,455.3 500.7,466.6 500.9,455.8 501.1,468.9 501.3,462.7 501.5,469.5 501.7,458.7 501.9,466.8 502.1,470.6 502.3,471.1 502.5,463.3 502.7,462.2 502.9,459.3 503.1,461.9" fill="none" stroke="#ab002e" stroke-width="2.3" stroke-linejoin="miter" stroke-miterlimit="2"/>
<polyline points="264.2,570.1 264.4,571.7 264.6,571.9 264.8,572.0 265.0,570.7 265.2,572.2 265.4,564.9 265.6,571.0 265.8,571.8 266.0,571.7 266.2,570.8 266.4,571.1 266.6,572.7 266.8,571.3 267.0,573.2 267.2,573.1 267.4,578.0 267.6,580.1 267.8,581.3 268.0,584.9 268.2,589.2 268.4,590.1 268.6,593.8 268.8,597.0 269.0,599.6 269.2,595.3 269.4,592.7 269.6,589.0 269.8,584.6 270.0,581.5 270.2,577.4 270.4,574.7 270.6,570.6 270.8,566.9 271.0,562.8 271.2,563.0 271.4,558.3 271.6,557.2 271.8,555.2 272.0,553.2 272.2,549.5 272.4,546.6 272.6,543.2 272.8,543.1 273.0,538.5 273.2,538.4 273.4,535.6 273.6,536.9 273.8,535.1 274.0,532.3 274.2,532.0 274.4,529.5 274.6,528.9 274.8,524.7 275.0,525.5 275.2,522.4 275.4,519.4 275.6,519.4 275.8,518.4 276.0,515.0 276.2,514.0 276.4,514.7 276.6,512.4 276.8,511.3 277.0,508.6 277.2,508.3 277.4,507.2 277.5,505.9 277.7,499.2 277.9,501.5 278.1,501.3 278.3,500.7 278.5,498.8 278.7,496.2 278.9,495.3 279.1,497.0 279.3,495.7 279.5,493.7 279.7,493.2 279.9,492.6 280.1,492.4 280.3,488.8 280.5,489.7 280.7,491.9 280.9,487.7 281.1,483.8 281.3,487.5 281.5,486.7 281.7,482.0 281.9,483.3 282.1,492.3 282.3,487.7 282.5,483.0 282.7,496.2 282.9,482.5 283.1,478.2 283.3,498.5 283.5,498.8 283.7,475.6 283.9,494.9 284.1,474.0 284.3,494.6 284.5,470.1 284.7,486.1 284.9,485.2 285.1,483.9 285.3,485.6 285.5,490.2 285.7,477.0 285.9,489.2 286.1,480.3 286.3,486.6 286.5,473.4 286.7,482.8 286.9,459.7 287.1,458.0 287.3,456.7 287.5,478.1 287.7,465.0 287.9,462.5 288.1,483.5 288.3,480.1 288.5,488.5 288.7,478.7 288.9,476.1 289.1,476.9 289.3,477.1 289.5,460.1 289.7,458.2 289.9,459.8 290.1,457.8 290.3,466.2 290.5,475.6 290.7,475.4 290.9,469.7 291.1,477.5 291.3,469.0 291.5,469.6 291.7,449.5 291.9,468.4 292.1,453.7 292.3,477.1 292.5,462.5 292.7,455.9 292.9,454.8 293.1,491.6 293.3,467.3 293.5,455.8 293.7,454.1 293.9,470.3 294.1,463.2 294.3,475.3 294.5,451.0 294.7,456.4 294.9,453.2 295.1,470.1 295.3,477.7 295.5,470.0 295.7,460.1 295.9,465.8 296.1,472.9 296.3,464.7 296.5,461.7 296.7,475.4 296.9,449.1 297.1,487.1 297.3,484.4 297.5,471.1 297.7,483.7 297.9,473.0 298.1,462.4 298.3,459.1 298.5,469.7 298.7,465.1 298.9,444.7 299.1,452.5 299.3,473.7 299.5,445.0 299.7,466.6 299.9,436.6 300.1,455.3 300.3,487.3 300.5,436.2 300.7,468.9 300.9,453.3 301.1,459.2 301.3,479.5 301.5,464.9 301.7,457.7 301.9,470.1 302.1,443.1 302.3,473.0 302.5,458.7 302.7,472.1 302.9,467.3 303.1,454.7 303.3,446.2 303.5,470.6 303.7,439.4 303.9,468.8 304.1,453.3 304.2,443.5 304.4,448.8 304.6,455.6 304.8,449.9 305.0,464.4 305.2,453.5 305.4,454.5 305.6,464.0 305.8,452.7 306.0,440.1 306.2,446.4 306.4,462.4 306.6,453.4 306.8,447.7 307.0,451.2 307.2,464.8 307.4,440.9 307.6,452.2 307.8,454.8 308.0,438.3 308.2,446.4 308.4,440.3 308.6,460.9 308.8,456.1 309.0,461.3 309.2,448.8 309.4,461.3 309.6,444.6 309.8,451.4 310.0,461.0 310.2,462.7 310.4,443.0 310.6,448.2 310.8,455.2 311.0,456.2 311.2,449.2 311.4,460.9 311.6,446.5 311.8,452.7 312.0,457.4 312.2,455.3 312.4,461.2 312.6,440.1 312.8,442.4 313.0,459.5 313.2,448.8 313.4,462.1 313.6,453.0 313.8,462.0 314.0,458.8 314.2,463.4 314.4,447.7 314.6,449.4 314.8,443.2 315.0,457.9 315.2,452.4 315.4,446.8 315.6,446.4 315.8,457.3 316.0,447.5 316.2,453.8 316.4,443.1 316.6,436.3 316.8,445.5 317.0,438.7 317.2,443.3 317.4,446.1 317.6,469.9 317.8,443.9 318.0,436.7 318.2,450.7 318.4,458.9 318.6,442.3 318.8,447.9 319.0,460.4 319.2,451.8 319.4,457.8 319.6,456.5 319.8,440.7 320.0,469.6 320.2,454.8 320.4,442.3 320.6,454.4 320.8,442.6 321.0,459.6 321.2,458.5 321.4,447.1 321.6,464.6 321.8,446.9 322.0,463.9 322.2,443.8 322.4,450.9 322.6,448.1 322.8,451.2 323.0,437.5 323.2,442.3 323.4,462.5 323.6,438.2 323.8,440.7 324.0,451.3 324.2,450.5 324.4,438.7 324.6,451.6 324.8,463.6 325.0,453.3 325.2,447.3 325.4,428.5 325.6,449.8 325.8,462.7 326.0,477.5 326.2,446.1 326.4,478.6 326.6,461.5 326.8,438.5 327.0,450.1 327.2,451.8 327.4,437.5 327.6,450.6 327.8,429.7 328.0,437.0 328.2,450.0 328.4,441.1 328.6,454.4 328.8,434.3 329.0,439.9 329.2,445.5 329.4,451.8 329.6,429.7 329.8,452.7 330.0,457.1 330.2,461.7 330.4,451.1 330.6,472.2 330.7,461.8 330.9,428.9 331.1,441.4 331.3,460.8 331.5,439.7 331.7,462.7 331.9,439.2 332.1,439.5 332.3,435.9 332.5,434.1 332.7,445.7 332.9,439.7 333.1,436.2 333.3,440.4 333.5,456.7 333.7,441.3 333.9,443.6 334.1,433.4 334.3,460.8 334.5,481.0 334.7,439.9 334.9,452.0 335.1,441.0 335.3,462.5 335.5,460.4 335.7,444.8 335.9,442.9 336.1,437.4 336.3,461.2 336.5,459.2 336.7,454.6 336.9,438.8 337.1,461.5 337.3,438.5 337.5,433.5 337.7,431.3 337.9,443.2 338.1,435.0 338.3,449.8 338.5,444.0 338.7,441.6 338.9,448.5 339.1,435.2 339.3,445.5 339.5,438.6 339.7,457.5 339.9,453.5 340.1,433.5 340.3,435.9 340.5,448.6 340.7,461.3 340.9,447.3 341.1,442.5 341.3,480.7 341.5,442.9 341.7,461.2 341.9,463.3 342.1,433.8 342.3,439.2 342.5,458.8 342.7,458.6 342.9,451.2 343.1,428.1 343.3,459.1 343.5,462.9 343.7,434.3 343.9,433.8 344.1,452.7 344.3,450.6 344.5,446.3 344.7,431.9 344.9,434.2 345.1,446.7 345.3,451.7 345.5,459.8 345.7,457.0 345.9,456.5 346.1,439.4 346.3,438.6 346.5,433.9 346.7,445.7 346.9,432.1 347.1,443.5 347.3,463.3 347.5,443.0 347.7,457.4 347.9,436.4 348.1,454.4 348.3,434.6 348.5,439.0 348.7,442.4 348.9,457.4 349.1,449.7 349.3,431.7 349.5,438.2 349.7,444.3 349.9,460.4 350.1,432.1 350.3,446.1 350.5,443.6 350.7,426.4 350.9,468.5 351.1,452.0 351.3,435.6 351.5,461.6 351.7,461.3 351.9,438.8 352.1,467.0 352.3,437.4 352.5,444.9 352.7,451.3 352.9,439.4 353.1,429.5 353.3,447.2 353.5,442.2 353.7,431.6 353.9,441.6 354.1,435.6 354.3,443.9 354.5,453.7 354.7,454.8 354.9,440.9 355.1,444.4 355.3,455.4 355.5,434.4 355.7,461.2 355.9,457.9 356.1,451.9 356.3,431.5 356.5,454.3 356.7,432.4 356.9,431.1 357.1,436.4 357.2,452.3 357.4,447.9 357.6,456.2 357.8,451.8 358.0,453.4 358.2,444.9 358.4,461.2 358.6,434.1 358.8,459.4 359.0,450.6 359.2,442.1 359.4,434.7 359.6,450.9 359.8,432.5 360.0,451.6 360.2,436.6 360.4,438.4 360.6,436.0 360.8,445.7 361.0,462.6 361.2,436.6 361.4,433.9 361.6,458.4 361.8,434.8 362.0,450.4 362.2,442.5 362.4,443.0 362.6,435.7 362.8,436.5 363.0,447.9 363.2,449.3 363.4,454.5 363.6,428.5 363.8,478.3 364.0,439.8 364.2,447.9 364.4,450.3 364.6,447.8 364.8,443.4 365.0,457.1 365.2,455.4 365.4,455.3 365.6,456.7 365.8,438.0 366.0,434.1 366.2,448.6 366.4,461.5 366.6,457.4 366.8,432.4 367.0,460.4 367.2,434.2 367.4,454.2 367.6,454.0 367.8,452.4 368.0,439.0 368.2,434.8 368.4,433.2 368.6,453.0 368.8,456.6 369.0,448.8 369.2,463.7 369.4,440.0 369.6,450.1 369.8,441.5 370.0,436.1 370.2,441.9 370.4,461.6 370.6,455.0 370.8,450.8 371.0,435.0 371.2,455.2 371.4,432.7 371.6,460.5 371.8,453.6 372.0,474.2 372.2,440.2 372.4,443.9 372.6,452.1 372.8,443.6 373.0,465.6 373.2,463.4 373.4,456.1 373.6,431.6 373.8,456.9 374.0,450.9 374.2,444.0 374.4,439.2 374.6,471.5 374.8,456.5 375.0,442.1 375.2,431.7 375.4,448.5 375.6,446.8 375.8,432.6 376.0,445.2 376.2,444.1 376.4,431.7 376.6,447.5 376.8,432.5 377.0,456.1 377.2,432.8 377.4,446.2 377.6,426.3 377.8,432.5 378.0,458.3 378.2,431.3 378.4,441.9 378.6,461.4 378.8,457.5 379.0,451.9 379.2,435.1 379.4,454.8 379.6,453.3 379.8,454.9 380.0,431.8 380.2,442.0 380.4,459.7 380.6,462.8 380.8,455.4 381.0,448.2 381.2,434.3 381.4,447.4 381.6,457.5 381.8,436.0 382.0,427.7 382.2,443.5 382.4,452.9 382.6,457.2 382.8,453.3 383.0,435.5 383.2,455.1 383.4,441.3 383.6,444.7 383.8,443.2 383.9,478.8 384.1,473.6 384.3,428.0 384.5,432.1 384.7,432.1 384.9,433.3 385.1,452.3 385.3,433.5 385.5,441.7 385.7,444.3 385.9,445.3 386.1,457.8 386.3,456.4 386.5,430.9 386.7,455.0 386.9,463.9 387.1,462.5 387.3,443.1 387.5,449.2 387.7,450.8 387.9,453.1 388.1,432.9 388.3,456.1 388.5,444.7 388.7,435.9 388.9,439.6 389.1,474.6 389.3,459.3 389.5,458.3 389.7,457.7 389.9,447.4 390.1,432.4 390.3,434.1 390.5,445.5 390.7,439.2 390.9,457.9 391.1,462.0 391.3,441.9 391.5,458.0 391.7,461.7 391.9,436.5 392.1,445.7 392.3,452.4 392.5,452.1 392.7,437.8 392.9,452.3 393.1,440.6 393.3,434.1 393.5,463.7 393.7,442.8 393.9,459.0 394.1,463.5 394.3,447.9 394.5,454.7 394.7,441.4 394.9,456.5 395.1,442.8 395.3,451.8 395.5,480.3 395.7,458.7 395.9,450.7 396.1,444.6 396.3,447.3 396.5,436.5 396.7,460.3 396.9,460.5 397.1,438.1 397.3,463.7 397.5,460.2 397.7,460.9 397.9,461.3 398.1,449.8 398.3,462.2 398.5,457.9 398.7,450.3 398.9,449.1 399.1,474.5 399.3,432.3 399.5,457.3 399.7,439.5 399.9,433.4 400.1,462.7 400.3,457.1 400.5,441.8 400.7,449.8 400.9,452.9 401.1,465.1 401.3,438.8 401.5,437.1 401.7,456.1 401.9,439.0 402.1,429.2 402.3,447.2 402.5,441.1 402.7,463.0 402.9,439.2 403.1,447.1 403.3,445.0 403.5,461.4 403.7,435.3 403.9,439.0 404.1,435.6 404.3,458.9 404.5,438.7 404.7,466.7 404.9,445.2 405.1,462.7 405.3,457.5 405.5,443.2 405.7,446.7 405.9,461.7 406.1,446.9 406.3,431.2 406.5,446.8 406.7,433.7 406.9,455.9 407.1,450.2 407.3,443.8 407.5,436.6 407.7,429.4 407.9,464.8 408.1,464.0 408.3,448.2 408.5,438.5 408.7,459.0 408.9,447.9 409.1,441.7 409.3,439.2 409.5,453.0 409.7,427.4 409.9,461.4 410.1,455.8 410.3,450.4 410.4,450.0 410.6,434.5 410.8,456.2 411.0,435.1 411.2,459.9 411.4,440.5 411.6,451.8 411.8,455.2 412.0,455.2 412.2,445.2 412.4,460.4 412.6,458.9 412.8,456.1 413.0,446.4 413.2,460.7 413.4,435.2 413.6,453.2 413.8,452.5 414.0,458.5 414.2,450.4 414.4,436.8 414.6,438.7 414.8,458.5 415.0,462.7 415.2,437.9 415.4,445.8 415.6,449.9 415.8,460.4 416.0,453.2 416.2,444.5 416.4,459.5 416.6,443.7 416.8,451.1 417.0,457.4 417.2,441.5 417.4,450.5 417.6,443.1 417.8,449.4 418.0,444.7 418.2,432.9 418.4,451.9 418.6,455.8 418.8,433.8 419.0,444.9 419.2,457.4 419.4,472.3 419.6,464.1 419.8,434.2 420.0,445.1 420.2,435.1 420.4,443.2 420.6,456.9 420.8,452.3 421.0,440.3 421.2,450.7 421.4,459.0 421.6,453.3 421.8,434.4 422.0,441.8 422.2,446.1 422.4,454.5 422.6,453.6 422.8,459.0 423.0,445.8 423.2,455.4 423.4,449.2 423.6,463.2 423.8,455.6 424.0,452.5 424.2,462.9 424.4,452.2 424.6,463.3 424.8,447.5 425.0,440.8 425.2,434.9 425.4,458.4 425.6,440.9 425.8,434.7 426.0,456.7 426.2,438.8 426.4,443.5 426.6,446.0 426.8,472.0 427.0,448.8 427.2,437.6 427.4,447.1 427.6,449.5 427.8,444.1 428.0,433.3 428.2,438.3 428.4,454.3 428.6,460.1 428.8,458.7 429.0,440.2 429.2,441.9 429.4,459.9 429.6,467.7 429.8,441.8 430.0,451.4 430.2,452.5 430.4,459.2 430.6,442.1 430.8,458.9 431.0,437.7 431.2,443.6 431.4,442.9 431.6,458.7 431.8,439.8 432.0,444.8 432.2,429.4 432.4,445.1 432.6,463.3 432.8,457.6 433.0,437.8 433.2,451.9 433.4,456.0 433.6,432.7 433.8,442.6 434.0,454.1 434.2,440.8 434.4,451.9 434.6,466.9 434.8,435.5 435.0,454.6 435.2,460.5 435.4,435.9 435.6,437.0 435.8,458.5 436.0,458.9 436.2,438.2 436.4,435.6 436.6,440.6 436.8,463.3 436.9,471.9 437.1,453.7 437.3,453.4 437.5,447.4 437.7,466.5 437.9,442.3 438.1,437.7 438.3,454.5 438.5,453.8 438.7,449.9 438.9,435.4 439.1,458.9 439.3,447.7 439.5,448.4 439.7,452.0 439.9,459.7 440.1,435.2 440.3,440.4 440.5,454.3 440.7,454.0 440.9,432.9 441.1,448.4 441.3,463.0 441.5,460.6 441.7,463.4 441.9,441.7 442.1,448.5 442.3,446.1 442.5,464.1 442.7,432.1 442.9,442.1 443.1,464.1 443.3,461.0 443.5,455.6 443.7,447.6 443.9,443.2 444.1,440.1 444.3,448.2 444.5,436.3 444.7,443.6 444.9,450.5 445.1,453.8 445.3,456.0 445.5,463.9 445.7,452.9 445.9,454.3 446.1,462.8 446.3,457.0 446.5,452.7 446.7,452.7 446.9,461.1 447.1,461.5 447.3,431.6 447.5,450.7 447.7,450.3 447.9,456.1 448.1,436.4 448.3,454.4 448.5,459.4 448.7,470.3 448.9,439.1 449.1,460.0 449.3,435.5 449.5,463.4 449.7,452.1 449.9,462.2 450.1,444.7 450.3,459.3 450.5,444.2 450.7,462.2 450.9,457.1 451.1,459.8 451.3,448.0 451.5,447.0 451.7,464.6 451.9,454.4 452.1,454.2 452.3,455.8 452.5,455.4 452.7,432.1 452.9,447.4 453.1,461.1 453.3,455.9 453.5,437.1 453.7,452.2 453.9,455.5 454.1,443.5 454.3,453.1 454.5,447.0 454.7,450.2 454.9,437.9 455.1,461.7 455.3,453.7 455.5,461.8 455.7,442.0 455.9,478.6 456.1,463.7 456.3,446.0 456.5,452.6 456.7,462.9 456.9,458.9 457.1,457.6 457.3,436.6 457.5,459.9 457.7,449.5 457.9,454.2 458.1,445.3 458.3,455.8 458.5,448.8 458.7,463.0 458.9,445.1 459.1,437.9 459.3,450.0 459.5,448.0 459.7,464.2 459.9,445.9 460.1,463.6 460.3,461.9 460.5,442.5 460.7,437.9 460.9,455.0 461.1,440.3 461.3,446.2 461.5,445.1 461.7,442.5 461.9,459.9 462.1,446.2 462.3,462.3 462.5,471.4 462.7,444.3 462.9,461.6 463.1,437.5 463.3,458.8 463.4,453.9 463.6,450.5 463.8,433.9 464.0,458.1 464.2,467.9 464.4,435.6 464.6,459.7 464.8,438.9 465.0,446.5 465.2,441.4 465.4,456.5 465.6,442.6 465.8,440.2 466.0,433.7 466.2,452.7 466.4,452.5 466.6,466.8 466.8,438.3 467.0,459.3 467.2,458.2 467.4,443.9 467.6,451.2 467.8,458.2 468.0,478.5 468.2,458.7 468.4,458.8 468.6,441.1 468.8,450.8 469.0,443.2 469.2,476.7 469.4,445.3 469.6,444.4 469.8,449.4 470.0,463.8 470.2,449.1 470.4,458.5 470.6,447.7 470.8,443.9 471.0,438.2 471.2,461.7 471.4,443.4 471.6,463.3 471.8,443.9 472.0,453.2 472.2,440.6 472.4,448.2 472.6,434.3 472.8,460.7 473.0,438.3 473.2,447.9 473.4,444.0 473.6,460.1 473.8,456.7 474.0,441.1 474.2,444.1 474.4,455.1 474.6,462.6 474.8,454.3 475.0,463.8 475.2,451.0 475.4,478.0 475.6,444.6 475.8,452.7 476.0,454.9 476.2,483.2 476.4,439.2 476.6,448.1 476.8,447.7 477.0,465.9 477.2,446.0 477.4,455.6 477.6,439.3 477.8,454.7 478.0,454.3 478.2,455.1 478.4,462.9 478.6,455.9 478.8,463.8 479.0,462.5 479.2,460.3 479.4,459.5 479.6,455.6 479.8,462.4 480.0,442.7 480.2,459.7 480.4,448.2 480.6,448.3 480.8,454.6 481.0,446.2 481.2,455.1 481.4,462.0 481.6,442.0 481.8,464.8 482.0,464.7 482.2,455.8 482.4,443.2 482.6,456.6 482.8,447.4 483.0,450.7 483.2,464.1 483.4,439.5 483.6,456.0 483.8,453.2 484.0,456.5 484.2,460.7 484.4,467.9 484.6,441.6 484.8,458.1 485.0,472.1 485.2,458.2 485.4,475.2 485.6,463.7 485.8,444.0 486.0,442.5 486.2,440.6 486.4,463.7 486.6,477.6 486.8,443.3 487.0,448.9 487.2,458.2 487.4,460.3 487.6,457.3 487.8,455.7 488.0,463.5 488.2,452.7 488.4,446.5 488.6,447.7 488.8,442.8 489.0,459.2 489.2,460.5 489.4,464.1 489.6,440.5 489.8,454.0 490.0,478.2 490.1,446.8 490.3,442.5 490.5,454.7 490.7,442.1 490.9,449.3 491.1,453.8 491.3,441.8 491.5,449.1 491.7,468.1 491.9,441.9 492.1,454.4 492.3,472.3 492.5,443.2 492.7,464.8 492.9,450.2 493.1,448.9 493.3,457.1 493.5,460.7 493.7,444.0 493.9,459.6 494.1,464.6 494.3,443.0 494.5,458.3 494.7,450.2 494.9,438.1 495.1,454.9 495.3,451.8 495.5,481.4 495.7,440.5 495.9,450.1 496.1,452.9 496.3,451.4 496.5,457.4 496.7,458.3 496.9,457.1 497.1,464.6 497.3,460.7 497.5,449.8 497.7,456.8 497.9,443.6 498.1,464.8 498.3,462.2 498.5,449.6 498.7,448.4 498.9,451.8 499.1,458.9 499.3,444.5 499.5,446.2 499.7,448.8 499.9,444.3 500.1,476.6 500.3,448.1 500.5,442.0 500.7,453.5 500.9,463.7 501.1,450.9 501.3,454.9 501.5,456.9 501.7,451.2 501.9,459.3 502.1,446.4 502.3,450.5 502.5,444.4 502.7,462.5 502.9,447.4 503.1,442.6" fill="none" stroke="#2e4b7d" stroke-width="2.4" stroke-linejoin="miter" stroke-miterlimit="2"/>
<text x="273.80" y="392.70" font-size="12" text-anchor="start" font-weight="normal" fill="#1c1c1c" stroke="#1c1c1c" stroke-width="0.35" textLength="71.4" lengthAdjust="spacingAndGlyphs">Addition NAC</text>
<line x1="289.20" y1="396.00" x2="289.20" y2="421.00" stroke="#141414" stroke-width="1.8"/>
<path d="M284.1 417.4 L289.2 420.6 L294.2 417.4 L289.2 429.6 Z" fill="#111" stroke="#111" stroke-width="0.4" stroke-linejoin="miter"/>
<text x="462.70" y="425.00" font-size="11.2" text-anchor="start" font-weight="bold" fill="#27375f" stroke="#27375f" stroke-width="0.35" textLength="36.1" lengthAdjust="spacingAndGlyphs">+ NAC</text>
<text x="462.70" y="496.20" font-size="11.2" text-anchor="start" font-weight="bold" fill="#8e1838" stroke="#8e1838" stroke-width="0.35" textLength="36.1" lengthAdjust="spacingAndGlyphs">– NAC</text>
</svg></div>
</body></html>
